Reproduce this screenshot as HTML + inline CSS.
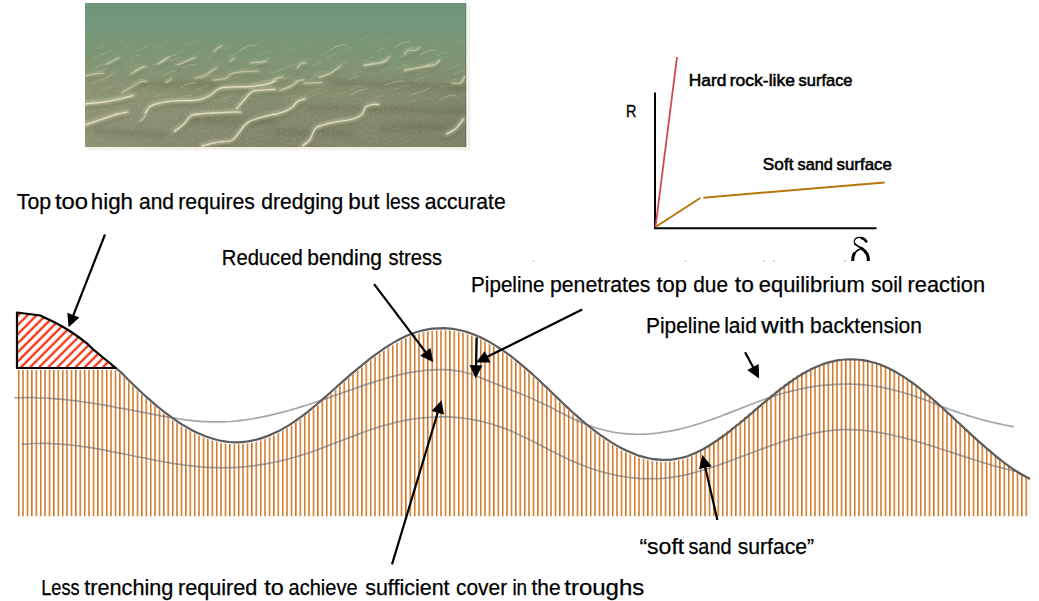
<!DOCTYPE html>
<html><head><meta charset="utf-8"><style>
html,body{margin:0;padding:0;background:#fff;}
svg{display:block;}
</style></head><body>
<svg width="1039" height="601" viewBox="0 0 1039 601">
<defs>
<pattern id="vh" x="17.9" y="0" width="4.4" height="601" patternUnits="userSpaceOnUse">
<rect x="0" y="0" width="1.5" height="601" fill="#cf721f"/>
</pattern>
<pattern id="rh" x="0" y="0" width="6.435" height="9" patternUnits="userSpaceOnUse" patternTransform="rotate(45)">
<rect x="3.2" y="0" width="2.1" height="9" fill="#fb2200"/>
</pattern>
<clipPath id="hc"><path d="M115.8,370.0 C116.8,370.9 119.8,373.2 121.8,375.1 C123.8,377.0 125.8,379.2 127.8,381.2 C129.7,383.1 131.7,385.1 133.7,387.0 C135.7,389.0 137.7,390.9 139.7,392.7 C141.7,394.6 143.7,396.5 145.7,398.3 C147.7,400.0 149.7,401.8 151.7,403.5 C153.6,405.3 155.6,406.9 157.6,408.6 C159.6,410.2 161.6,411.8 163.6,413.4 C165.6,414.9 167.6,416.4 169.6,417.9 C171.6,419.4 173.6,420.8 175.6,422.1 C177.5,423.5 179.5,424.8 181.5,426.1 C183.5,427.3 185.5,428.5 187.5,429.6 C189.5,430.8 191.5,431.9 193.5,432.9 C195.5,433.9 197.5,434.9 199.5,435.8 C201.4,436.7 203.4,437.5 205.4,438.3 C207.4,439.0 209.4,439.7 211.4,440.3 C213.4,441.0 215.4,441.5 217.4,442.0 C219.4,442.5 221.4,442.9 223.4,443.2 C225.3,443.6 227.3,443.8 229.3,444.0 C231.3,444.2 233.3,444.3 235.3,444.3 C237.3,444.3 239.3,444.2 241.3,444.1 C243.3,444.0 245.3,443.8 247.3,443.5 C249.2,443.2 251.2,442.8 253.2,442.4 C255.2,442.0 257.2,441.4 259.2,440.9 C261.2,440.3 263.2,439.6 265.2,438.9 C267.2,438.2 269.2,437.4 271.2,436.5 C273.1,435.7 275.1,434.8 277.1,433.8 C279.1,432.8 281.1,431.7 283.1,430.6 C285.1,429.5 287.1,428.3 289.1,427.1 C291.1,425.8 293.1,424.5 295.1,423.1 C297.0,421.8 299.0,420.3 301.0,418.9 C303.0,417.4 305.0,415.9 307.0,414.3 C309.0,412.7 311.0,411.1 313.0,409.5 C315.0,407.8 317.0,406.2 319.0,404.5 C320.9,402.8 322.9,401.0 324.9,399.3 C326.9,397.6 328.9,395.8 330.9,394.0 C332.9,392.3 334.9,390.5 336.9,388.7 C338.9,387.0 340.9,385.2 342.9,383.4 C344.8,381.7 346.8,379.9 348.8,378.2 C350.8,376.5 352.8,374.8 354.8,373.1 C356.8,371.4 358.8,369.7 360.8,368.1 C362.8,366.4 364.8,364.8 366.8,363.3 C368.7,361.7 370.7,360.2 372.7,358.7 C374.7,357.2 376.7,355.7 378.7,354.3 C380.7,352.9 382.7,351.5 384.7,350.2 C386.7,348.9 388.7,347.6 390.7,346.4 C392.6,345.2 394.6,344.0 396.6,342.9 C398.6,341.8 400.6,340.8 402.6,339.8 C404.6,338.8 406.6,337.9 408.6,337.1 C410.6,336.3 412.6,335.5 414.6,334.8 C416.5,334.2 418.5,333.6 420.5,333.0 C422.5,332.5 424.5,332.0 426.5,331.7 C428.5,331.3 430.5,331.0 432.5,330.7 C434.5,330.5 436.5,330.4 438.5,330.3 C440.5,330.2 442.4,330.2 444.4,330.2 C446.4,330.3 448.4,330.5 450.4,330.7 C452.4,330.9 454.4,331.2 456.4,331.5 C458.4,331.9 460.4,332.3 462.4,332.8 C464.4,333.3 466.3,333.9 468.3,334.5 C470.3,335.2 472.3,335.9 474.3,336.7 C476.3,337.4 478.3,338.3 480.3,339.2 C482.3,340.1 484.3,341.1 486.3,342.2 C488.3,343.3 490.2,344.4 492.2,345.6 C494.2,346.7 496.2,348.0 498.2,349.3 C500.2,350.6 502.2,351.9 504.2,353.3 C506.2,354.7 508.2,356.2 510.2,357.7 C512.2,359.2 514.1,360.8 516.1,362.3 C518.1,363.9 520.1,365.6 522.1,367.3 C524.1,368.9 526.1,370.6 528.1,372.4 C530.1,374.1 532.1,375.9 534.1,377.8 C536.1,379.6 538.0,381.4 540.0,383.3 C542.0,385.2 544.0,387.0 546.0,388.9 C548.0,390.8 550.0,392.8 552.0,394.7 C554.0,396.6 556.0,398.5 558.0,400.4 C560.0,402.3 561.9,404.2 563.9,406.1 C565.9,408.0 567.9,409.9 569.9,411.7 C571.9,413.6 573.9,415.4 575.9,417.2 C577.9,418.9 579.9,420.7 581.9,422.4 C583.9,424.1 585.8,425.8 587.8,427.4 C589.8,429.0 591.8,430.6 593.8,432.1 C595.8,433.7 597.8,435.1 599.8,436.6 C601.8,438.0 603.8,439.4 605.8,440.7 C607.8,442.1 609.7,443.4 611.7,444.6 C613.7,445.8 615.7,447.0 617.7,448.1 C619.7,449.2 621.7,450.3 623.7,451.2 C625.7,452.2 627.7,453.2 629.7,454.0 C631.7,454.9 633.6,455.7 635.6,456.4 C637.6,457.2 639.6,457.8 641.6,458.4 C643.6,459.0 645.6,459.5 647.6,460.0 C649.6,460.4 651.6,460.8 653.6,461.1 C655.6,461.4 657.5,461.6 659.5,461.7 C661.5,461.9 663.5,461.9 665.5,461.9 C667.5,461.9 669.5,461.8 671.5,461.6 C673.5,461.4 675.5,461.1 677.5,460.7 C679.5,460.4 681.4,459.9 683.4,459.4 C685.4,458.8 687.4,458.3 689.4,457.4 C691.4,456.6 693.4,455.3 695.4,454.1 C697.4,452.9 699.4,451.6 701.4,450.2 C703.4,448.9 705.3,447.4 707.3,445.9 C709.3,444.4 711.3,442.7 713.3,441.2 C715.3,439.7 717.3,438.4 719.3,436.9 C721.3,435.5 723.3,434.0 725.3,432.6 C727.3,431.1 729.3,429.5 731.2,428.0 C733.2,426.4 735.2,424.8 737.2,423.2 C739.2,421.6 741.2,419.9 743.2,418.3 C745.2,416.6 747.2,414.9 749.2,413.3 C751.2,411.6 753.2,409.9 755.1,408.2 C757.1,406.5 759.1,404.8 761.1,403.1 C763.1,401.4 765.1,399.8 767.1,398.1 C769.1,396.5 771.1,394.8 773.1,393.2 C775.1,391.6 777.1,390.0 779.0,388.4 C781.0,386.9 783.0,385.3 785.0,383.8 C787.0,382.3 789.0,380.9 791.0,379.5 C793.0,378.1 795.0,376.8 797.0,375.5 C799.0,374.3 801.0,373.2 802.9,372.2 C804.9,371.1 806.9,370.1 808.9,369.2 C810.9,368.2 812.9,367.4 814.9,366.6 C816.9,365.8 818.9,365.1 820.9,364.5 C822.9,363.8 824.9,363.3 826.8,362.8 C828.8,362.2 830.8,361.8 832.8,361.4 C834.8,360.9 836.8,360.5 838.8,360.2 C840.8,359.9 842.8,359.7 844.8,359.5 C846.8,359.4 848.8,359.3 850.7,359.3 C852.7,359.3 854.7,359.3 856.7,359.5 C858.7,359.6 860.7,359.8 862.7,360.1 C864.7,360.4 866.7,360.8 868.7,361.2 C870.7,361.7 872.7,362.2 874.6,362.8 C876.6,363.4 878.6,364.1 880.6,364.8 C882.6,365.6 884.6,366.4 886.6,367.3 C888.6,368.2 890.6,369.2 892.6,370.2 C894.6,371.3 896.6,372.4 898.5,373.6 C900.5,374.8 902.5,376.0 904.5,377.4 C906.5,378.7 908.5,380.0 910.5,381.5 C912.5,382.9 914.5,384.4 916.5,385.9 C918.5,387.4 920.5,389.0 922.4,390.6 C924.4,392.2 926.4,393.9 928.4,395.5 C930.4,397.2 932.4,398.9 934.4,400.7 C936.4,402.4 938.4,404.2 940.4,406.0 C942.4,407.8 944.4,409.6 946.3,411.4 C948.3,413.2 950.3,415.1 952.3,416.9 C954.3,418.8 956.3,420.6 958.3,422.5 C960.3,424.3 962.3,426.2 964.3,428.1 C966.3,429.9 968.3,431.8 970.2,433.6 C972.2,435.4 974.2,437.3 976.2,439.1 C978.2,440.9 980.2,442.7 982.2,444.4 C984.2,446.2 986.2,448.0 988.2,449.7 C990.2,451.4 992.2,453.1 994.1,454.7 C996.1,456.3 998.1,458.0 1000.1,459.5 C1002.1,461.1 1004.1,462.6 1006.1,464.1 C1008.1,465.5 1010.1,467.0 1012.1,468.3 C1014.1,469.7 1016.1,471.0 1018.0,472.2 C1020.0,473.5 1022.0,474.7 1024.0,475.8 C1026.0,476.9 1029.0,478.4 1030.0,478.9 L1030,516.5 L16.5,516.5 L16.5,370 L115.8,370 Z"/></clipPath>
<clipPath id="dc"><rect x="0" y="0" width="1039" height="261"/></clipPath>
</defs>
<rect x="466.4" y="6" width="4" height="144.3" fill="#f4f2e8"/>
<rect x="88" y="147" width="382.4" height="3.3" fill="#f4f2e8"/>

<svg x="85" y="3" width="381.4" height="144" viewBox="0 0 381.4 144">
<defs>
<linearGradient id="pg" x1="0" y1="0" x2="0" y2="1">
<stop offset="0" stop-color="#6f967c"/>
<stop offset="0.15" stop-color="#72977b"/>
<stop offset="0.28" stop-color="#7a9675"/>
<stop offset="0.42" stop-color="#809674"/>
<stop offset="0.6" stop-color="#838e6e"/>
<stop offset="0.8" stop-color="#82886c"/>
<stop offset="1" stop-color="#7f8369"/>
</linearGradient>
<linearGradient id="ph" x1="0" y1="0" x2="1" y2="0">
<stop offset="0" stop-color="#a8aa8c" stop-opacity="0.3"/>
<stop offset="0.5" stop-color="#a6a888" stop-opacity="0"/>
<stop offset="1" stop-color="#5f6a50" stop-opacity="0.22"/>
</linearGradient>
<linearGradient id="pm" x1="0" y1="0" x2="0" y2="1">
<stop offset="0" stop-color="#fff" stop-opacity="0"/>
<stop offset="0.35" stop-color="#fff" stop-opacity="0"/>
<stop offset="0.7" stop-color="#fff" stop-opacity="1"/>
</linearGradient>
<mask id="pmask"><rect width="381.4" height="144" fill="url(#pm)"/></mask>
<filter id="bl" x="-20%" y="-20%" width="140%" height="140%"><feGaussianBlur stdDeviation="0.6"/></filter>
<filter id="bl2" x="-20%" y="-50%" width="140%" height="200%"><feGaussianBlur stdDeviation="2.5"/></filter>
<filter id="bl3" x="-20%" y="-50%" width="140%" height="200%"><feGaussianBlur stdDeviation="1.5"/></filter>
<filter id="noise" x="0" y="0" width="100%" height="100%"><feTurbulence type="fractalNoise" baseFrequency="0.6 0.4" numOctaves="2" seed="3"/><feColorMatrix type="matrix" values="0 0 0 0 0.3  0 0 0 0 0.31  0 0 0 0 0.22  3.2 0 0 0 -1.5"/></filter>
<filter id="noise2" x="0" y="0" width="100%" height="100%"><feTurbulence type="fractalNoise" baseFrequency="0.6 0.4" numOctaves="2" seed="11"/><feColorMatrix type="matrix" values="0 0 0 0 0.9  0 0 0 0 0.88  0 0 0 0 0.75  3.2 0 0 0 -1.5"/></filter>
</defs>
<rect width="381.4" height="144" fill="url(#pg)"/>
<rect width="381.4" height="144" fill="url(#ph)" mask="url(#pmask)"/>
<g fill="none" stroke="#54583e" stroke-width="5" opacity="0.3" filter="url(#bl2)"><path d="M245.0,80.0 C251.7,80.1 271.8,80.2 285.0,80.5 C298.2,80.8 312.3,81.4 324.0,82.0 C335.7,82.6 345.5,83.5 355.0,84.0 C364.5,84.5 376.7,84.8 381.0,85.0"/><path d="M221.0,105.0 C226.7,105.1 242.7,105.3 255.0,105.5 C267.3,105.7 281.7,105.8 295.0,106.0 C308.3,106.2 320.7,106.7 335.0,107.0 C349.3,107.3 373.3,107.8 381.0,108.0"/><path d="M190.0,129.0 C194.2,129.1 205.8,129.3 215.0,129.5 C224.2,129.7 236.0,129.8 245.0,130.0 C254.0,130.2 265.0,130.8 269.0,131.0"/><path d="M55.0,81.0 C61.7,81.1 81.8,81.2 95.0,81.5 C108.2,81.8 127.5,82.3 134.0,82.5"/><path d="M96.0,118.0 C102.5,118.1 119.3,118.3 135.0,118.5 C150.7,118.7 180.8,118.9 190.0,119.0"/><path d="M10.0,128.0 C15.8,128.3 33.3,129.3 45.0,130.0 C56.7,130.7 74.2,131.7 80.0,132.0"/><path d="M295.0,125.0 C301.7,124.8 321.7,124.0 335.0,124.0 C348.3,124.0 368.3,124.8 375.0,125.0"/></g>
<g fill="none" stroke="#4f5538" stroke-linecap="round" filter="url(#bl3)" transform="translate(0,3.5)">
<g stroke-width="4" opacity="0.3"><path d="M0.0,121.9 C1.8,121.3 7.3,119.5 11.0,118.3 C14.7,117.1 18.3,115.8 22.0,114.6 C25.7,113.4 29.6,111.9 32.9,111.0 C36.2,110.1 40.5,109.4 42.0,109.1"/><path d="M60.4,110.0 C61.2,108.9 62.9,105.2 65.0,103.6 C67.1,102.0 69.7,101.2 73.2,100.3 C76.7,99.4 82.0,98.5 86.0,98.1 C90.0,97.6 92.3,97.8 96.9,97.6 C101.5,97.4 108.8,97.7 113.4,96.9 C118.0,96.1 121.4,94.3 124.4,92.7 C127.5,91.1 129.3,88.6 131.7,87.2 C134.1,85.8 133.5,85.0 139.0,84.4 C144.5,83.8 157.3,84.1 164.6,83.5 C171.9,82.9 178.7,81.7 182.9,80.8 C187.1,79.9 188.8,78.5 190.0,78.0"/><path d="M89.6,128.3 C91.1,127.1 96.1,123.6 98.8,121.0 C101.5,118.4 103.6,114.5 106.0,112.8 C108.4,111.1 109.7,111.5 113.4,111.0 C117.1,110.5 122.5,110.3 128.0,110.0 C133.5,109.7 141.7,109.2 146.3,109.1 C150.9,108.9 153.9,109.1 155.4,109.1"/><path d="M117.0,143.0 C119.5,142.4 126.8,140.2 131.7,139.3 C136.6,138.4 142.7,139.0 146.3,137.5 C150.0,136.0 151.5,132.6 153.6,130.2 C155.7,127.7 157.3,124.8 159.1,122.8 C160.9,120.8 161.8,119.7 164.6,118.3 C167.3,116.9 171.4,115.8 175.6,114.6 C179.8,113.4 187.6,111.6 190.0,111.0"/><path d="M151.8,105.5 C153.0,104.1 156.7,100.0 159.1,97.2 C161.5,94.5 163.7,90.7 166.4,89.0 C169.2,87.3 171.7,87.7 175.6,87.2 C179.5,86.8 187.6,86.5 190.0,86.3"/><path d="M190.0,111.5 C191.8,110.9 198.0,109.2 201.1,107.8 C204.2,106.4 206.7,104.7 208.5,103.2 C210.3,101.7 210.3,99.8 212.2,98.6 C214.0,97.4 218.4,96.3 219.6,95.8"/><path d="M217.7,142.9 C218.9,141.8 223.1,139.3 225.1,136.5 C227.1,133.7 227.8,128.6 229.7,126.3 C231.5,124.0 232.6,123.8 236.2,122.6 C239.8,121.4 245.8,120.0 251.0,118.9 C256.2,117.8 263.3,117.3 267.6,116.1 C271.9,114.9 274.7,113.5 276.9,111.5 C279.1,109.5 278.8,105.8 280.6,104.1 C282.5,102.4 285.9,101.9 288.0,101.4 C290.1,101.0 292.6,101.4 293.5,101.4"/><path d="M361.9,130.9 C363.4,130.0 368.3,127.9 371.1,125.4 C373.9,122.9 377.3,117.6 378.5,116.1"/><path d="M0.0,100.8 C3.1,100.5 12.3,99.9 18.4,99.0 C24.5,98.1 31.9,96.4 36.8,95.3 C41.7,94.2 46.0,93.0 47.8,92.5"/></g>
<g stroke-width="3" opacity="0.2"><path d="M22.0,61.0 C22.9,60.5 25.6,59.4 27.6,58.3 C29.6,57.2 32.9,55.2 34.0,54.6"/><path d="M46.0,71.1 C47.2,70.3 51.2,67.7 53.3,66.5 C55.4,65.3 57.9,64.2 58.8,63.8"/><path d="M73.5,61.0 C74.4,60.4 77.3,58.4 79.0,57.3 C80.7,56.2 82.8,55.0 83.6,54.6"/><path d="M91.9,61.9 C93.1,61.5 97.2,60.1 99.3,59.2 C101.5,58.3 103.0,57.2 104.8,56.4 C106.6,55.6 109.4,54.9 110.3,54.6"/><path d="M80.9,79.4 C81.8,78.9 85.5,77.1 86.4,76.6"/><path d="M128.7,49.0 C129.3,48.4 131.0,46.5 132.4,45.4 C133.8,44.3 136.2,43.1 137.0,42.6"/><path d="M145.2,58.2 C145.8,57.8 148.3,56.0 148.9,55.5"/><path d="M165.4,60.0 C168.2,59.7 179.2,58.5 182.0,58.2"/><path d="M0.0,73.0 C1.5,72.7 6.1,71.6 9.2,71.1 C12.3,70.6 16.9,70.3 18.4,70.2"/><path d="M191.0,75.7 C192.2,75.4 197.2,74.2 198.4,73.9"/><path d="M194.7,87.7 C196.5,87.1 202.9,85.5 205.7,84.0 C208.4,82.5 209.0,79.7 211.2,78.5 C213.3,77.3 217.4,76.9 218.6,76.6"/><path d="M235.1,73.9 C236.9,73.3 243.3,71.6 246.1,70.2 C248.9,68.8 250.2,66.7 251.7,65.6 C253.2,64.5 254.7,64.1 255.3,63.8"/><path d="M279.2,61.9 C281.6,61.6 290.2,61.0 293.9,60.1 C297.6,59.2 299.4,57.5 301.3,56.4 C303.2,55.3 304.4,54.2 305.0,53.7"/><path d="M319.7,66.5 C322.1,66.2 330.4,65.5 334.4,64.7 C338.4,63.9 340.9,62.5 343.6,61.9 C346.4,61.3 349.1,61.8 350.9,61.0 C352.7,60.2 354.0,57.9 354.6,57.3"/><path d="M319.7,50.9 C320.3,50.3 321.6,47.8 323.4,47.2 C325.2,46.6 328.9,47.7 330.7,47.2 C332.5,46.8 333.8,45.0 334.4,44.5"/><path d="M367.5,80.3 C369.0,80.2 374.6,80.6 376.7,79.4 C378.8,78.2 379.7,74.1 380.3,73.0"/><path d="M55.1,118.3 C56.0,117.4 59.8,113.6 60.7,112.7"/><path d="M218.6,80.3 C221.7,80.2 233.9,79.6 237.0,79.4"/><path d="M36.6,89.9 C38.4,88.8 44.4,85.3 47.5,83.5 C50.6,81.7 52.5,79.9 54.9,79.0 C57.4,78.1 61.0,78.2 62.2,78.0"/><path d="M109.7,75.3 C111.5,74.8 117.9,73.7 120.7,72.5 C123.4,71.3 124.4,69.2 126.2,68.0 C128.0,66.8 130.8,65.7 131.7,65.2"/><path d="M128.0,77.1 C130.1,76.8 137.8,76.4 140.8,75.3 C143.9,74.2 143.9,71.8 146.3,70.7 C148.7,69.6 150.8,69.4 155.4,68.9 C160.0,68.5 170.6,68.2 173.7,68.0"/><path d="M197.4,86.6 C199.2,85.8 205.7,83.5 208.5,82.0 C211.3,80.5 213.1,78.1 214.0,77.3"/><path d="M234.4,74.6 C236.2,73.8 242.3,71.5 245.4,69.9 C248.5,68.4 251.6,66.1 252.8,65.3"/><path d="M212.2,65.3 C212.8,64.5 214.4,61.6 215.9,60.7 C217.4,59.8 220.5,59.9 221.4,59.8"/><path d="M278.7,62.5 C281.8,62.0 293.2,60.7 297.2,59.8 C301.2,58.9 301.8,57.5 302.7,57.0"/><path d="M319.4,68.1 C321.8,67.5 329.2,65.3 334.1,64.4 C339.0,63.5 345.5,63.6 348.9,62.5 C352.3,61.4 353.6,58.7 354.5,57.9"/><path d="M374.8,81.0 C375.6,79.8 378.6,74.8 379.4,73.6"/><path d="M188.0,77.3 C188.9,76.8 192.8,75.0 193.7,74.6"/></g>
</g>
<g fill="none" stroke="#ece4c0" stroke-linecap="round" filter="url(#bl3)">
<g stroke-width="5" opacity="0.4"><path d="M0.0,121.9 C1.8,121.3 7.3,119.5 11.0,118.3 C14.7,117.1 18.3,115.8 22.0,114.6 C25.7,113.4 29.6,111.9 32.9,111.0 C36.2,110.1 40.5,109.4 42.0,109.1"/><path d="M60.4,110.0 C61.2,108.9 62.9,105.2 65.0,103.6 C67.1,102.0 69.7,101.2 73.2,100.3 C76.7,99.4 82.0,98.5 86.0,98.1 C90.0,97.6 92.3,97.8 96.9,97.6 C101.5,97.4 108.8,97.7 113.4,96.9 C118.0,96.1 121.4,94.3 124.4,92.7 C127.5,91.1 129.3,88.6 131.7,87.2 C134.1,85.8 133.5,85.0 139.0,84.4 C144.5,83.8 157.3,84.1 164.6,83.5 C171.9,82.9 178.7,81.7 182.9,80.8 C187.1,79.9 188.8,78.5 190.0,78.0"/><path d="M89.6,128.3 C91.1,127.1 96.1,123.6 98.8,121.0 C101.5,118.4 103.6,114.5 106.0,112.8 C108.4,111.1 109.7,111.5 113.4,111.0 C117.1,110.5 122.5,110.3 128.0,110.0 C133.5,109.7 141.7,109.2 146.3,109.1 C150.9,108.9 153.9,109.1 155.4,109.1"/><path d="M117.0,143.0 C119.5,142.4 126.8,140.2 131.7,139.3 C136.6,138.4 142.7,139.0 146.3,137.5 C150.0,136.0 151.5,132.6 153.6,130.2 C155.7,127.7 157.3,124.8 159.1,122.8 C160.9,120.8 161.8,119.7 164.6,118.3 C167.3,116.9 171.4,115.8 175.6,114.6 C179.8,113.4 187.6,111.6 190.0,111.0"/><path d="M151.8,105.5 C153.0,104.1 156.7,100.0 159.1,97.2 C161.5,94.5 163.7,90.7 166.4,89.0 C169.2,87.3 171.7,87.7 175.6,87.2 C179.5,86.8 187.6,86.5 190.0,86.3"/><path d="M190.0,111.5 C191.8,110.9 198.0,109.2 201.1,107.8 C204.2,106.4 206.7,104.7 208.5,103.2 C210.3,101.7 210.3,99.8 212.2,98.6 C214.0,97.4 218.4,96.3 219.6,95.8"/><path d="M217.7,142.9 C218.9,141.8 223.1,139.3 225.1,136.5 C227.1,133.7 227.8,128.6 229.7,126.3 C231.5,124.0 232.6,123.8 236.2,122.6 C239.8,121.4 245.8,120.0 251.0,118.9 C256.2,117.8 263.3,117.3 267.6,116.1 C271.9,114.9 274.7,113.5 276.9,111.5 C279.1,109.5 278.8,105.8 280.6,104.1 C282.5,102.4 285.9,101.9 288.0,101.4 C290.1,101.0 292.6,101.4 293.5,101.4"/><path d="M361.9,130.9 C363.4,130.0 368.3,127.9 371.1,125.4 C373.9,122.9 377.3,117.6 378.5,116.1"/><path d="M0.0,100.8 C3.1,100.5 12.3,99.9 18.4,99.0 C24.5,98.1 31.9,96.4 36.8,95.3 C41.7,94.2 46.0,93.0 47.8,92.5"/></g>
<g stroke-width="3.5" opacity="0.25"><path d="M22.0,61.0 C22.9,60.5 25.6,59.4 27.6,58.3 C29.6,57.2 32.9,55.2 34.0,54.6"/><path d="M46.0,71.1 C47.2,70.3 51.2,67.7 53.3,66.5 C55.4,65.3 57.9,64.2 58.8,63.8"/><path d="M73.5,61.0 C74.4,60.4 77.3,58.4 79.0,57.3 C80.7,56.2 82.8,55.0 83.6,54.6"/><path d="M91.9,61.9 C93.1,61.5 97.2,60.1 99.3,59.2 C101.5,58.3 103.0,57.2 104.8,56.4 C106.6,55.6 109.4,54.9 110.3,54.6"/><path d="M80.9,79.4 C81.8,78.9 85.5,77.1 86.4,76.6"/><path d="M128.7,49.0 C129.3,48.4 131.0,46.5 132.4,45.4 C133.8,44.3 136.2,43.1 137.0,42.6"/><path d="M145.2,58.2 C145.8,57.8 148.3,56.0 148.9,55.5"/><path d="M165.4,60.0 C168.2,59.7 179.2,58.5 182.0,58.2"/><path d="M0.0,73.0 C1.5,72.7 6.1,71.6 9.2,71.1 C12.3,70.6 16.9,70.3 18.4,70.2"/><path d="M191.0,75.7 C192.2,75.4 197.2,74.2 198.4,73.9"/><path d="M194.7,87.7 C196.5,87.1 202.9,85.5 205.7,84.0 C208.4,82.5 209.0,79.7 211.2,78.5 C213.3,77.3 217.4,76.9 218.6,76.6"/><path d="M235.1,73.9 C236.9,73.3 243.3,71.6 246.1,70.2 C248.9,68.8 250.2,66.7 251.7,65.6 C253.2,64.5 254.7,64.1 255.3,63.8"/><path d="M279.2,61.9 C281.6,61.6 290.2,61.0 293.9,60.1 C297.6,59.2 299.4,57.5 301.3,56.4 C303.2,55.3 304.4,54.2 305.0,53.7"/><path d="M319.7,66.5 C322.1,66.2 330.4,65.5 334.4,64.7 C338.4,63.9 340.9,62.5 343.6,61.9 C346.4,61.3 349.1,61.8 350.9,61.0 C352.7,60.2 354.0,57.9 354.6,57.3"/><path d="M319.7,50.9 C320.3,50.3 321.6,47.8 323.4,47.2 C325.2,46.6 328.9,47.7 330.7,47.2 C332.5,46.8 333.8,45.0 334.4,44.5"/><path d="M367.5,80.3 C369.0,80.2 374.6,80.6 376.7,79.4 C378.8,78.2 379.7,74.1 380.3,73.0"/><path d="M55.1,118.3 C56.0,117.4 59.8,113.6 60.7,112.7"/><path d="M218.6,80.3 C221.7,80.2 233.9,79.6 237.0,79.4"/><path d="M36.6,89.9 C38.4,88.8 44.4,85.3 47.5,83.5 C50.6,81.7 52.5,79.9 54.9,79.0 C57.4,78.1 61.0,78.2 62.2,78.0"/><path d="M109.7,75.3 C111.5,74.8 117.9,73.7 120.7,72.5 C123.4,71.3 124.4,69.2 126.2,68.0 C128.0,66.8 130.8,65.7 131.7,65.2"/><path d="M128.0,77.1 C130.1,76.8 137.8,76.4 140.8,75.3 C143.9,74.2 143.9,71.8 146.3,70.7 C148.7,69.6 150.8,69.4 155.4,68.9 C160.0,68.5 170.6,68.2 173.7,68.0"/><path d="M197.4,86.6 C199.2,85.8 205.7,83.5 208.5,82.0 C211.3,80.5 213.1,78.1 214.0,77.3"/><path d="M234.4,74.6 C236.2,73.8 242.3,71.5 245.4,69.9 C248.5,68.4 251.6,66.1 252.8,65.3"/><path d="M212.2,65.3 C212.8,64.5 214.4,61.6 215.9,60.7 C217.4,59.8 220.5,59.9 221.4,59.8"/><path d="M278.7,62.5 C281.8,62.0 293.2,60.7 297.2,59.8 C301.2,58.9 301.8,57.5 302.7,57.0"/><path d="M319.4,68.1 C321.8,67.5 329.2,65.3 334.1,64.4 C339.0,63.5 345.5,63.6 348.9,62.5 C352.3,61.4 353.6,58.7 354.5,57.9"/><path d="M374.8,81.0 C375.6,79.8 378.6,74.8 379.4,73.6"/><path d="M188.0,77.3 C188.9,76.8 192.8,75.0 193.7,74.6"/></g>
</g>
<g fill="none" stroke="#fbf5da" stroke-linecap="round" filter="url(#bl)">
<g stroke-width="1.3" opacity="0.75"><path d="M0.0,121.9 C1.8,121.3 7.3,119.5 11.0,118.3 C14.7,117.1 18.3,115.8 22.0,114.6 C25.7,113.4 29.6,111.9 32.9,111.0 C36.2,110.1 40.5,109.4 42.0,109.1"/><path d="M60.4,110.0 C61.2,108.9 62.9,105.2 65.0,103.6 C67.1,102.0 69.7,101.2 73.2,100.3 C76.7,99.4 82.0,98.5 86.0,98.1 C90.0,97.6 92.3,97.8 96.9,97.6 C101.5,97.4 108.8,97.7 113.4,96.9 C118.0,96.1 121.4,94.3 124.4,92.7 C127.5,91.1 129.3,88.6 131.7,87.2 C134.1,85.8 133.5,85.0 139.0,84.4 C144.5,83.8 157.3,84.1 164.6,83.5 C171.9,82.9 178.7,81.7 182.9,80.8 C187.1,79.9 188.8,78.5 190.0,78.0"/><path d="M89.6,128.3 C91.1,127.1 96.1,123.6 98.8,121.0 C101.5,118.4 103.6,114.5 106.0,112.8 C108.4,111.1 109.7,111.5 113.4,111.0 C117.1,110.5 122.5,110.3 128.0,110.0 C133.5,109.7 141.7,109.2 146.3,109.1 C150.9,108.9 153.9,109.1 155.4,109.1"/><path d="M117.0,143.0 C119.5,142.4 126.8,140.2 131.7,139.3 C136.6,138.4 142.7,139.0 146.3,137.5 C150.0,136.0 151.5,132.6 153.6,130.2 C155.7,127.7 157.3,124.8 159.1,122.8 C160.9,120.8 161.8,119.7 164.6,118.3 C167.3,116.9 171.4,115.8 175.6,114.6 C179.8,113.4 187.6,111.6 190.0,111.0"/><path d="M151.8,105.5 C153.0,104.1 156.7,100.0 159.1,97.2 C161.5,94.5 163.7,90.7 166.4,89.0 C169.2,87.3 171.7,87.7 175.6,87.2 C179.5,86.8 187.6,86.5 190.0,86.3"/><path d="M190.0,111.5 C191.8,110.9 198.0,109.2 201.1,107.8 C204.2,106.4 206.7,104.7 208.5,103.2 C210.3,101.7 210.3,99.8 212.2,98.6 C214.0,97.4 218.4,96.3 219.6,95.8"/><path d="M217.7,142.9 C218.9,141.8 223.1,139.3 225.1,136.5 C227.1,133.7 227.8,128.6 229.7,126.3 C231.5,124.0 232.6,123.8 236.2,122.6 C239.8,121.4 245.8,120.0 251.0,118.9 C256.2,117.8 263.3,117.3 267.6,116.1 C271.9,114.9 274.7,113.5 276.9,111.5 C279.1,109.5 278.8,105.8 280.6,104.1 C282.5,102.4 285.9,101.9 288.0,101.4 C290.1,101.0 292.6,101.4 293.5,101.4"/><path d="M361.9,130.9 C363.4,130.0 368.3,127.9 371.1,125.4 C373.9,122.9 377.3,117.6 378.5,116.1"/><path d="M0.0,100.8 C3.1,100.5 12.3,99.9 18.4,99.0 C24.5,98.1 31.9,96.4 36.8,95.3 C41.7,94.2 46.0,93.0 47.8,92.5"/></g>
<g stroke-width="1.1" opacity="0.45"><path d="M22.0,61.0 C22.9,60.5 25.6,59.4 27.6,58.3 C29.6,57.2 32.9,55.2 34.0,54.6"/><path d="M46.0,71.1 C47.2,70.3 51.2,67.7 53.3,66.5 C55.4,65.3 57.9,64.2 58.8,63.8"/><path d="M73.5,61.0 C74.4,60.4 77.3,58.4 79.0,57.3 C80.7,56.2 82.8,55.0 83.6,54.6"/><path d="M91.9,61.9 C93.1,61.5 97.2,60.1 99.3,59.2 C101.5,58.3 103.0,57.2 104.8,56.4 C106.6,55.6 109.4,54.9 110.3,54.6"/><path d="M80.9,79.4 C81.8,78.9 85.5,77.1 86.4,76.6"/><path d="M128.7,49.0 C129.3,48.4 131.0,46.5 132.4,45.4 C133.8,44.3 136.2,43.1 137.0,42.6"/><path d="M145.2,58.2 C145.8,57.8 148.3,56.0 148.9,55.5"/><path d="M165.4,60.0 C168.2,59.7 179.2,58.5 182.0,58.2"/><path d="M0.0,73.0 C1.5,72.7 6.1,71.6 9.2,71.1 C12.3,70.6 16.9,70.3 18.4,70.2"/><path d="M191.0,75.7 C192.2,75.4 197.2,74.2 198.4,73.9"/><path d="M194.7,87.7 C196.5,87.1 202.9,85.5 205.7,84.0 C208.4,82.5 209.0,79.7 211.2,78.5 C213.3,77.3 217.4,76.9 218.6,76.6"/><path d="M235.1,73.9 C236.9,73.3 243.3,71.6 246.1,70.2 C248.9,68.8 250.2,66.7 251.7,65.6 C253.2,64.5 254.7,64.1 255.3,63.8"/><path d="M279.2,61.9 C281.6,61.6 290.2,61.0 293.9,60.1 C297.6,59.2 299.4,57.5 301.3,56.4 C303.2,55.3 304.4,54.2 305.0,53.7"/><path d="M319.7,66.5 C322.1,66.2 330.4,65.5 334.4,64.7 C338.4,63.9 340.9,62.5 343.6,61.9 C346.4,61.3 349.1,61.8 350.9,61.0 C352.7,60.2 354.0,57.9 354.6,57.3"/><path d="M319.7,50.9 C320.3,50.3 321.6,47.8 323.4,47.2 C325.2,46.6 328.9,47.7 330.7,47.2 C332.5,46.8 333.8,45.0 334.4,44.5"/><path d="M367.5,80.3 C369.0,80.2 374.6,80.6 376.7,79.4 C378.8,78.2 379.7,74.1 380.3,73.0"/><path d="M55.1,118.3 C56.0,117.4 59.8,113.6 60.7,112.7"/><path d="M218.6,80.3 C221.7,80.2 233.9,79.6 237.0,79.4"/><path d="M36.6,89.9 C38.4,88.8 44.4,85.3 47.5,83.5 C50.6,81.7 52.5,79.9 54.9,79.0 C57.4,78.1 61.0,78.2 62.2,78.0"/><path d="M109.7,75.3 C111.5,74.8 117.9,73.7 120.7,72.5 C123.4,71.3 124.4,69.2 126.2,68.0 C128.0,66.8 130.8,65.7 131.7,65.2"/><path d="M128.0,77.1 C130.1,76.8 137.8,76.4 140.8,75.3 C143.9,74.2 143.9,71.8 146.3,70.7 C148.7,69.6 150.8,69.4 155.4,68.9 C160.0,68.5 170.6,68.2 173.7,68.0"/><path d="M197.4,86.6 C199.2,85.8 205.7,83.5 208.5,82.0 C211.3,80.5 213.1,78.1 214.0,77.3"/><path d="M234.4,74.6 C236.2,73.8 242.3,71.5 245.4,69.9 C248.5,68.4 251.6,66.1 252.8,65.3"/><path d="M212.2,65.3 C212.8,64.5 214.4,61.6 215.9,60.7 C217.4,59.8 220.5,59.9 221.4,59.8"/><path d="M278.7,62.5 C281.8,62.0 293.2,60.7 297.2,59.8 C301.2,58.9 301.8,57.5 302.7,57.0"/><path d="M319.4,68.1 C321.8,67.5 329.2,65.3 334.1,64.4 C339.0,63.5 345.5,63.6 348.9,62.5 C352.3,61.4 353.6,58.7 354.5,57.9"/><path d="M374.8,81.0 C375.6,79.8 378.6,74.8 379.4,73.6"/><path d="M188.0,77.3 C188.9,76.8 192.8,75.0 193.7,74.6"/></g>
<g stroke-width="1" opacity="0.3"><path d="M49.4,68.0 C50.3,67.4 52.8,65.1 54.9,64.3 C57.0,63.5 61.0,63.6 62.2,63.4"/><path d="M15.0,77.0 C16.3,76.5 20.5,75.3 23.0,74.0 C25.5,72.7 28.8,69.8 30.0,69.0"/><path d="M75.0,59.0 C76.3,58.2 80.3,55.2 83.0,54.0 C85.7,52.8 89.7,52.3 91.0,52.0"/><path d="M155.0,47.0 C156.3,46.3 160.3,43.8 163.0,43.0 C165.7,42.2 169.7,42.2 171.0,42.0"/><path d="M245.0,47.0 C246.3,46.3 250.3,43.8 253.0,43.0 C255.7,42.2 259.7,42.2 261.0,42.0"/><path d="M310.0,44.0 C311.2,43.3 314.5,40.8 317.0,40.0 C319.5,39.2 323.7,39.2 325.0,39.0"/><path d="M335.0,52.0 C336.3,51.3 340.3,48.8 343.0,48.0 C345.7,47.2 349.7,47.2 351.0,47.0"/><path d="M95.0,85.0 C96.3,84.3 100.3,81.8 103.0,81.0 C105.7,80.2 109.7,80.2 111.0,80.0"/><path d="M265.0,92.0 C266.3,91.3 270.3,89.0 273.0,88.0 C275.7,87.0 279.7,86.3 281.0,86.0"/><path d="M300.0,82.0 C301.7,81.5 306.7,79.7 310.0,79.0 C313.3,78.3 318.3,78.2 320.0,78.0"/><path d="M325.0,92.0 C326.7,91.5 331.7,90.2 335.0,89.0 C338.3,87.8 343.3,85.7 345.0,85.0"/><path d="M355.0,97.0 C356.3,96.3 360.3,93.8 363.0,93.0 C365.7,92.2 369.7,92.2 371.0,92.0"/></g>
<g stroke-width="1"><path d="M7.9,36.5 C8.3,36.3 9.8,35.9 10.5,35.5 C11.2,35.0 11.2,34.1 12.1,33.7 C12.9,33.2 14.9,33.0 15.5,32.9" opacity="0.06"/><path d="M37.1,37.5 C37.4,37.4 38.5,37.0 38.9,36.5 C39.4,36.1 39.4,35.2 40.0,34.7 C40.5,34.3 41.9,34.1 42.3,33.9" opacity="0.09"/><path d="M55.0,37.9 C55.3,37.7 56.3,37.3 56.8,36.9 C57.2,36.4 57.2,35.5 57.8,35.1 C58.4,34.6 59.8,34.4 60.1,34.3" opacity="0.07"/><path d="M79.8,39.8 C80.1,39.7 81.2,39.3 81.7,38.8 C82.2,38.4 82.2,37.5 82.8,37.0 C83.4,36.6 84.8,36.4 85.2,36.2" opacity="0.07"/><path d="M108.5,40.4 C108.9,40.3 110.4,39.9 111.1,39.4 C111.7,39.0 111.7,38.1 112.5,37.6 C113.3,37.2 115.3,37.0 115.8,36.8" opacity="0.08"/><path d="M145.4,35.9 C145.9,35.8 147.6,35.4 148.4,34.9 C149.2,34.5 149.2,33.6 150.1,33.1 C151.0,32.7 153.3,32.5 153.9,32.3" opacity="0.08"/><path d="M168.5,36.3 C168.9,36.1 170.1,35.8 170.7,35.3 C171.2,34.8 171.2,33.9 171.9,33.5 C172.6,33.1 174.2,32.8 174.7,32.7" opacity="0.11"/><path d="M190.0,38.6 C190.4,38.4 191.9,38.1 192.6,37.6 C193.3,37.1 193.3,36.2 194.1,35.8 C194.9,35.4 197.0,35.1 197.5,35.0" opacity="0.08"/><path d="M219.4,36.0 C219.7,35.8 220.7,35.5 221.2,35.0 C221.7,34.5 221.7,33.6 222.2,33.2 C222.8,32.8 224.2,32.5 224.5,32.4" opacity="0.07"/><path d="M248.8,37.8 C249.2,37.7 250.4,37.3 251.0,36.8 C251.5,36.4 251.5,35.5 252.2,35.0 C252.9,34.6 254.5,34.4 255.0,34.2" opacity="0.10"/><path d="M275.2,37.2 C275.6,37.0 277.3,36.7 278.1,36.2 C278.8,35.7 278.8,34.8 279.7,34.4 C280.6,34.0 282.8,33.7 283.4,33.6" opacity="0.10"/><path d="M299.8,38.6 C300.2,38.4 301.6,38.0 302.3,37.6 C302.9,37.1 302.9,36.2 303.7,35.8 C304.5,35.3 306.4,35.1 306.9,35.0" opacity="0.11"/><path d="M332.0,37.1 C332.6,37.0 334.4,36.6 335.2,36.1 C336.0,35.7 336.0,34.8 337.0,34.3 C338.0,33.9 340.4,33.7 341.1,33.5" opacity="0.07"/><path d="M360.6,39.5 C360.9,39.3 362.0,39.0 362.5,38.5 C363.0,38.0 363.0,37.1 363.6,36.7 C364.2,36.3 365.7,36.0 366.1,35.9" opacity="0.09"/><path d="M13.0,45.5 C13.5,45.4 15.2,45.0 15.9,44.5 C16.7,44.1 16.7,43.2 17.6,42.7 C18.5,42.3 20.7,42.1 21.4,41.9" opacity="0.15"/><path d="M39.0,45.2 C39.5,45.0 41.2,44.6 42.0,44.2 C42.8,43.7 42.8,42.8 43.7,42.4 C44.6,41.9 46.8,41.7 47.5,41.6" opacity="0.12"/><path d="M67.7,45.9 C68.3,45.7 70.3,45.4 71.2,44.9 C72.2,44.4 72.2,43.5 73.3,43.1 C74.4,42.7 77.1,42.4 77.8,42.3" opacity="0.11"/><path d="M101.8,42.0 C102.3,41.8 104.1,41.5 104.9,41.0 C105.7,40.5 105.7,39.6 106.7,39.2 C107.7,38.8 110.1,38.5 110.7,38.4" opacity="0.13"/><path d="M140.6,45.8 C141.0,45.6 142.4,45.3 143.1,44.8 C143.7,44.3 143.7,43.4 144.4,43.0 C145.2,42.6 147.1,42.3 147.6,42.2" opacity="0.11"/><path d="M171.6,41.8 C172.1,41.6 173.6,41.3 174.4,40.8 C175.1,40.3 175.1,39.4 175.9,39.0 C176.8,38.6 178.8,38.3 179.4,38.2" opacity="0.09"/><path d="M193.5,42.0 C194.1,41.8 195.9,41.5 196.8,41.0 C197.6,40.5 197.6,39.6 198.7,39.2 C199.7,38.8 202.1,38.5 202.8,38.4" opacity="0.09"/><path d="M219.3,43.7 C219.9,43.5 221.8,43.1 222.7,42.7 C223.6,42.2 223.6,41.3 224.7,40.9 C225.7,40.4 228.3,40.2 229.1,40.1" opacity="0.08"/><path d="M249.2,44.4 C249.7,44.3 251.7,43.9 252.6,43.4 C253.5,43.0 253.5,42.1 254.6,41.6 C255.6,41.2 258.3,41.0 259.0,40.8" opacity="0.14"/><path d="M286.5,43.1 C287.0,42.9 288.5,42.6 289.2,42.1 C289.9,41.6 289.9,40.7 290.7,40.3 C291.5,39.9 293.6,39.6 294.1,39.5" opacity="0.11"/><path d="M322.1,46.5 C322.4,46.3 323.7,46.0 324.3,45.5 C324.9,45.0 324.9,44.1 325.5,43.7 C326.2,43.3 327.9,43.0 328.4,42.9" opacity="0.09"/><path d="M344.6,42.9 C345.0,42.7 346.6,42.3 347.3,41.9 C348.1,41.4 348.1,40.5 348.9,40.1 C349.8,39.6 351.9,39.4 352.5,39.3" opacity="0.12"/><path d="M369.2,41.7 C369.7,41.6 371.2,41.2 371.9,40.7 C372.6,40.3 372.6,39.4 373.4,38.9 C374.2,38.5 376.3,38.3 376.8,38.1" opacity="0.11"/><path d="M17.3,51.2 C17.8,51.0 19.6,50.6 20.5,50.2 C21.3,49.7 21.3,48.8 22.3,48.4 C23.3,47.9 25.7,47.7 26.4,47.6" opacity="0.16"/><path d="M50.6,48.0 C51.2,47.8 53.4,47.4 54.5,47.0 C55.5,46.5 55.5,45.6 56.7,45.2 C57.9,44.7 60.9,44.5 61.7,44.4" opacity="0.17"/><path d="M89.5,51.7 C89.9,51.5 91.6,51.2 92.4,50.7 C93.2,50.2 93.2,49.3 94.1,48.9 C95.0,48.5 97.2,48.2 97.9,48.1" opacity="0.13"/><path d="M111.7,50.9 C112.1,50.7 113.4,50.3 114.1,49.9 C114.7,49.4 114.7,48.5 115.4,48.1 C116.1,47.6 117.9,47.4 118.4,47.3" opacity="0.10"/><path d="M134.1,48.5 C134.6,48.3 136.2,48.0 137.0,47.5 C137.7,47.0 137.7,46.1 138.6,45.7 C139.5,45.3 141.7,45.0 142.3,44.9" opacity="0.10"/><path d="M154.3,48.5 C154.7,48.3 156.0,47.9 156.7,47.5 C157.3,47.0 157.3,46.1 158.0,45.7 C158.8,45.2 160.6,45.0 161.1,44.9" opacity="0.13"/><path d="M173.6,52.1 C174.1,51.9 176.1,51.5 176.9,51.1 C177.8,50.6 177.8,49.7 178.9,49.3 C179.9,48.8 182.5,48.6 183.2,48.5" opacity="0.11"/><path d="M199.7,49.4 C200.2,49.3 201.9,48.9 202.6,48.4 C203.4,48.0 203.4,47.1 204.3,46.6 C205.2,46.2 207.4,46.0 208.0,45.8" opacity="0.11"/><path d="M235.3,52.7 C235.8,52.5 237.6,52.1 238.4,51.7 C239.2,51.2 239.2,50.3 240.1,49.9 C241.1,49.4 243.4,49.2 244.1,49.1" opacity="0.14"/><path d="M257.6,48.2 C258.1,48.0 259.7,47.7 260.5,47.2 C261.2,46.7 261.2,45.8 262.1,45.4 C263.0,45.0 265.2,44.7 265.8,44.6" opacity="0.12"/><path d="M292.7,48.5 C293.1,48.3 294.4,48.0 295.0,47.5 C295.5,47.0 295.5,46.1 296.2,45.7 C296.9,45.3 298.7,45.0 299.1,44.9" opacity="0.19"/><path d="M320.6,48.4 C321.2,48.3 323.0,47.9 323.9,47.4 C324.7,47.0 324.7,46.1 325.7,45.6 C326.7,45.2 329.2,45.0 329.9,44.8" opacity="0.10"/><path d="M351.4,52.6 C352.0,52.4 354.2,52.1 355.2,51.6 C356.2,51.1 356.2,50.2 357.4,49.8 C358.6,49.4 361.5,49.1 362.3,49.0" opacity="0.16"/><path d="M8.5,54.5 C9.2,54.4 11.5,54.0 12.6,53.5 C13.6,53.1 13.6,52.2 14.9,51.7 C16.2,51.3 19.3,51.1 20.1,50.9" opacity="0.17"/><path d="M46.2,55.3 C46.6,55.2 48.3,54.8 49.1,54.3 C49.8,53.9 49.8,53.0 50.7,52.5 C51.6,52.1 53.9,51.9 54.5,51.7" opacity="0.20"/><path d="M84.2,58.0 C84.9,57.8 87.3,57.4 88.4,57.0 C89.4,56.5 89.4,55.6 90.7,55.2 C92.0,54.7 95.2,54.5 96.1,54.4" opacity="0.20"/><path d="M121.4,54.8 C122.0,54.7 124.0,54.3 124.9,53.8 C125.8,53.4 125.8,52.5 126.9,52.0 C128.0,51.6 130.7,51.4 131.5,51.2" opacity="0.15"/><path d="M144.0,53.8 C144.5,53.7 146.2,53.3 147.0,52.8 C147.8,52.4 147.8,51.5 148.8,51.0 C149.7,50.6 152.0,50.4 152.7,50.2" opacity="0.14"/><path d="M177.1,58.5 C177.7,58.3 179.6,57.9 180.5,57.5 C181.4,57.0 181.4,56.1 182.5,55.7 C183.5,55.2 186.1,55.0 186.8,54.9" opacity="0.21"/><path d="M216.6,58.5 C217.1,58.3 219.0,57.9 219.8,57.5 C220.7,57.0 220.7,56.1 221.7,55.7 C222.7,55.2 225.1,55.0 225.8,54.9" opacity="0.13"/><path d="M241.9,54.7 C242.4,54.5 244.0,54.2 244.8,53.7 C245.5,53.2 245.5,52.3 246.4,51.9 C247.3,51.5 249.5,51.2 250.1,51.1" opacity="0.18"/><path d="M278.3,57.9 C278.9,57.7 280.9,57.4 281.8,56.9 C282.7,56.4 282.7,55.5 283.7,55.1 C284.8,54.7 287.5,54.4 288.2,54.3" opacity="0.18"/><path d="M314.6,54.1 C315.2,54.0 317.4,53.6 318.4,53.1 C319.4,52.7 319.4,51.8 320.6,51.3 C321.8,50.9 324.7,50.7 325.6,50.5" opacity="0.21"/><path d="M351.6,57.5 C352.2,57.3 354.2,56.9 355.1,56.5 C356.0,56.0 356.0,55.1 357.1,54.7 C358.1,54.2 360.8,54.0 361.5,53.9" opacity="0.13"/><path d="M8.0,64.7 C8.8,64.5 11.6,64.2 12.9,63.7 C14.2,63.2 14.2,62.3 15.7,61.9 C17.3,61.5 21.0,61.2 22.1,61.1" opacity="0.17"/><path d="M41.3,65.4 C42.1,65.3 44.6,64.9 45.7,64.4 C46.8,64.0 46.8,63.1 48.2,62.6 C49.5,62.2 52.9,62.0 53.8,61.8" opacity="0.14"/><path d="M68.1,61.5 C68.9,61.3 71.6,60.9 72.9,60.5 C74.1,60.0 74.1,59.1 75.6,58.7 C77.1,58.2 80.7,58.0 81.8,57.9" opacity="0.22"/><path d="M96.4,64.8 C97.2,64.7 100.1,64.3 101.4,63.8 C102.7,63.4 102.7,62.5 104.2,62.0 C105.7,61.6 109.5,61.4 110.6,61.2" opacity="0.20"/><path d="M128.9,63.4 C129.4,63.3 131.1,62.9 131.9,62.4 C132.7,62.0 132.7,61.1 133.6,60.6 C134.5,60.2 136.8,60.0 137.4,59.8" opacity="0.12"/><path d="M166.9,63.9 C167.6,63.8 169.8,63.4 170.8,62.9 C171.9,62.5 171.9,61.6 173.1,61.1 C174.3,60.7 177.3,60.5 178.1,60.3" opacity="0.23"/><path d="M197.9,65.1 C198.7,64.9 201.3,64.5 202.5,64.1 C203.7,63.6 203.7,62.7 205.1,62.3 C206.6,61.8 210.1,61.6 211.1,61.5" opacity="0.15"/><path d="M227.6,62.2 C228.1,62.0 230.0,61.6 230.8,61.2 C231.7,60.7 231.7,59.8 232.7,59.4 C233.7,58.9 236.2,58.7 236.9,58.6" opacity="0.19"/><path d="M253.5,62.8 C254.0,62.6 255.8,62.3 256.5,61.8 C257.3,61.3 257.3,60.4 258.3,60.0 C259.2,59.6 261.5,59.3 262.1,59.2" opacity="0.23"/><path d="M280.5,63.0 C281.1,62.8 283.5,62.5 284.5,62.0 C285.6,61.5 285.6,60.6 286.8,60.2 C288.1,59.8 291.2,59.5 292.0,59.4" opacity="0.23"/><path d="M311.6,65.3 C312.2,65.1 314.4,64.8 315.5,64.3 C316.5,63.8 316.5,62.9 317.7,62.5 C318.8,62.1 321.8,61.8 322.6,61.7" opacity="0.18"/><path d="M344.0,60.8 C344.7,60.6 346.8,60.3 347.7,59.8 C348.7,59.3 348.7,58.4 349.9,58.0 C351.0,57.6 353.8,57.3 354.6,57.2" opacity="0.14"/><path d="M366.7,64.7 C367.2,64.5 369.0,64.2 369.8,63.7 C370.6,63.2 370.6,62.3 371.6,61.9 C372.5,61.5 374.9,61.2 375.5,61.1" opacity="0.18"/><path d="M11.3,69.3 C12.1,69.2 14.5,68.8 15.6,68.3 C16.7,67.9 16.7,67.0 18.0,66.5 C19.3,66.1 22.6,65.9 23.5,65.7" opacity="0.19"/><path d="M49.6,68.2 C50.3,68.1 52.8,67.7 53.9,67.2 C55.1,66.8 55.1,65.9 56.4,65.4 C57.8,65.0 61.1,64.8 62.0,64.6" opacity="0.15"/><path d="M79.0,71.6 C79.7,71.4 82.1,71.0 83.2,70.6 C84.3,70.1 84.3,69.2 85.6,68.8 C87.0,68.3 90.2,68.1 91.1,68.0" opacity="0.19"/><path d="M116.8,72.3 C117.4,72.1 119.7,71.7 120.8,71.3 C121.9,70.8 121.9,69.9 123.1,69.5 C124.4,69.0 127.5,68.8 128.3,68.7" opacity="0.19"/><path d="M149.4,70.3 C150.2,70.1 152.9,69.7 154.1,69.3 C155.4,68.8 155.4,67.9 156.8,67.5 C158.3,67.0 161.8,66.8 162.8,66.7" opacity="0.17"/><path d="M184.4,70.1 C185.3,69.9 188.3,69.6 189.7,69.1 C191.1,68.6 191.1,67.7 192.8,67.3 C194.4,66.9 198.5,66.6 199.6,66.5" opacity="0.20"/><path d="M227.4,72.4 C228.0,72.2 230.0,71.9 231.0,71.4 C231.9,70.9 231.9,70.0 233.0,69.6 C234.1,69.2 236.9,68.9 237.7,68.8" opacity="0.19"/><path d="M266.6,71.9 C267.2,71.7 269.1,71.4 269.9,70.9 C270.8,70.4 270.8,69.5 271.8,69.1 C272.8,68.7 275.3,68.4 276.0,68.3" opacity="0.13"/><path d="M296.0,68.1 C296.6,67.9 298.6,67.5 299.5,67.1 C300.5,66.6 300.5,65.7 301.6,65.3 C302.6,64.8 305.4,64.6 306.1,64.5" opacity="0.13"/><path d="M330.2,71.6 C331.0,71.5 334.0,71.1 335.4,70.6 C336.7,70.2 336.7,69.3 338.3,68.8 C339.9,68.4 343.9,68.2 345.0,68.0" opacity="0.14"/><path d="M369.9,71.0 C370.5,70.8 372.3,70.5 373.2,70.0 C374.1,69.5 374.1,68.6 375.1,68.2 C376.1,67.8 378.6,67.5 379.3,67.4" opacity="0.23"/><path d="M6.3,80.5 C7.0,80.3 9.4,79.9 10.6,79.5 C11.7,79.0 11.7,78.1 13.0,77.7 C14.3,77.2 17.6,77.0 18.5,76.9" opacity="0.16"/><path d="M48.3,79.9 C48.9,79.7 51.0,79.3 51.9,78.9 C52.9,78.4 52.9,77.5 54.0,77.1 C55.1,76.6 57.9,76.4 58.7,76.3" opacity="0.15"/><path d="M80.0,77.4 C80.6,77.2 82.7,76.9 83.7,76.4 C84.7,75.9 84.7,75.0 85.8,74.6 C87.0,74.2 89.8,73.9 90.6,73.8" opacity="0.14"/><path d="M115.6,75.8 C116.4,75.6 119.1,75.3 120.3,74.8 C121.5,74.3 121.5,73.4 123.0,73.0 C124.4,72.6 128.0,72.3 129.0,72.2" opacity="0.16"/><path d="M141.3,77.4 C142.1,77.2 144.9,76.8 146.2,76.4 C147.5,75.9 147.5,75.0 149.0,74.6 C150.5,74.1 154.2,73.9 155.3,73.8" opacity="0.16"/><path d="M168.5,80.6 C169.3,80.5 172.4,80.1 173.8,79.6 C175.2,79.2 175.2,78.3 176.8,77.8 C178.5,77.4 182.6,77.2 183.7,77.0" opacity="0.21"/><path d="M197.6,77.0 C198.1,76.9 200.0,76.5 200.9,76.0 C201.7,75.6 201.7,74.7 202.8,74.2 C203.8,73.8 206.3,73.6 207.0,73.4" opacity="0.19"/><path d="M223.9,76.3 C224.6,76.2 227.1,75.8 228.2,75.3 C229.3,74.9 229.3,74.0 230.7,73.5 C232.0,73.1 235.3,72.9 236.3,72.7" opacity="0.21"/><path d="M263.0,77.0 C263.6,76.8 265.7,76.5 266.6,76.0 C267.5,75.5 267.5,74.6 268.6,74.2 C269.8,73.8 272.5,73.5 273.3,73.4" opacity="0.21"/><path d="M295.5,79.2 C296.1,79.0 298.1,78.7 299.0,78.2 C299.9,77.7 299.9,76.8 300.9,76.4 C302.0,76.0 304.6,75.7 305.3,75.6" opacity="0.11"/><path d="M329.7,77.8 C330.3,77.7 332.2,77.3 333.1,76.8 C334.0,76.4 334.0,75.5 335.0,75.0 C336.1,74.6 338.7,74.4 339.4,74.2" opacity="0.21"/><path d="M362.8,79.7 C363.4,79.5 365.3,79.2 366.2,78.7 C367.1,78.2 367.1,77.3 368.2,76.9 C369.2,76.5 371.8,76.2 372.6,76.1" opacity="0.20"/><path d="M15.9,87.0 C16.7,86.8 19.2,86.4 20.4,86.0 C21.5,85.5 21.5,84.6 22.9,84.2 C24.3,83.7 27.6,83.5 28.6,83.4" opacity="0.15"/><path d="M57.3,86.0 C57.9,85.9 60.1,85.5 61.1,85.0 C62.1,84.6 62.1,83.7 63.3,83.2 C64.4,82.8 67.3,82.6 68.2,82.4" opacity="0.15"/><path d="M84.4,85.2 C85.1,85.1 87.3,84.7 88.4,84.2 C89.4,83.8 89.4,82.9 90.6,82.4 C91.8,82.0 94.8,81.8 95.6,81.6" opacity="0.10"/><path d="M111.2,86.3 C112.0,86.1 114.4,85.7 115.6,85.3 C116.7,84.8 116.7,83.9 118.0,83.5 C119.4,83.0 122.7,82.8 123.6,82.7" opacity="0.17"/><path d="M140.8,87.2 C141.5,87.0 143.7,86.7 144.8,86.2 C145.8,85.7 145.8,84.8 147.0,84.4 C148.3,84.0 151.3,83.7 152.1,83.6" opacity="0.13"/><path d="M164.4,86.0 C165.0,85.8 167.0,85.4 167.9,85.0 C168.8,84.5 168.8,83.6 169.9,83.2 C171.0,82.7 173.6,82.5 174.4,82.4" opacity="0.17"/><path d="M196.3,85.6 C197.1,85.5 199.8,85.1 201.1,84.6 C202.4,84.2 202.4,83.3 203.9,82.8 C205.4,82.4 209.0,82.2 210.1,82.0" opacity="0.19"/><path d="M224.0,88.8 C224.8,88.6 227.5,88.3 228.7,87.8 C229.9,87.3 229.9,86.4 231.4,86.0 C232.8,85.6 236.4,85.3 237.4,85.2" opacity="0.14"/><path d="M264.4,86.7 C265.3,86.5 268.1,86.1 269.4,85.7 C270.6,85.2 270.6,84.3 272.2,83.9 C273.7,83.4 277.4,83.2 278.5,83.1" opacity="0.16"/><path d="M308.2,86.4 C309.2,86.2 312.5,85.9 314.1,85.4 C315.6,84.9 315.6,84.0 317.4,83.6 C319.2,83.2 323.7,82.9 325.0,82.8" opacity="0.16"/><path d="M348.4,86.7 C349.2,86.6 351.7,86.2 352.9,85.7 C354.0,85.3 354.0,84.4 355.4,83.9 C356.8,83.5 360.2,83.3 361.1,83.1" opacity="0.10"/><path d="M4.1,97.4 C4.8,97.2 7.4,96.9 8.5,96.4 C9.7,95.9 9.7,95.0 11.1,94.6 C12.5,94.2 15.9,93.9 16.9,93.8" opacity="0.10"/><path d="M30.4,97.9 C31.5,97.7 35.1,97.4 36.8,96.9 C38.5,96.4 38.5,95.5 40.5,95.1 C42.5,94.7 47.3,94.4 48.7,94.3" opacity="0.14"/><path d="M65.8,94.9 C66.6,94.7 69.2,94.4 70.4,93.9 C71.6,93.4 71.6,92.5 73.0,92.1 C74.4,91.7 77.9,91.4 78.9,91.3" opacity="0.12"/><path d="M93.8,95.9 C94.5,95.8 97.1,95.4 98.3,94.9 C99.4,94.5 99.4,93.6 100.8,93.1 C102.2,92.7 105.7,92.5 106.6,92.3" opacity="0.16"/><path d="M136.1,96.4 C136.9,96.3 139.4,95.9 140.6,95.4 C141.8,95.0 141.8,94.1 143.1,93.6 C144.5,93.2 147.9,93.0 148.8,92.8" opacity="0.17"/><path d="M166.4,95.5 C167.0,95.3 169.1,94.9 170.1,94.5 C171.1,94.0 171.1,93.1 172.2,92.7 C173.3,92.2 176.1,92.0 176.9,91.9" opacity="0.12"/><path d="M197.5,96.2 C198.2,96.0 200.6,95.7 201.8,95.2 C202.9,94.7 202.9,93.8 204.2,93.4 C205.6,93.0 208.9,92.7 209.8,92.6" opacity="0.13"/><path d="M221.9,95.0 C222.5,94.9 224.8,94.5 225.8,94.0 C226.9,93.6 226.9,92.7 228.1,92.2 C229.3,91.8 232.3,91.6 233.2,91.4" opacity="0.12"/><path d="M245.9,93.8 C246.7,93.6 249.3,93.3 250.6,92.8 C251.8,92.3 251.8,91.4 253.2,91.0 C254.6,90.6 258.2,90.3 259.2,90.2" opacity="0.10"/><path d="M281.7,96.3 C282.7,96.2 286.2,95.8 287.7,95.3 C289.3,94.9 289.3,94.0 291.2,93.5 C293.1,93.1 297.7,92.9 299.0,92.7" opacity="0.14"/><path d="M323.8,98.1 C324.7,97.9 327.5,97.6 328.7,97.1 C330.0,96.6 330.0,95.7 331.5,95.3 C333.1,94.9 336.8,94.6 337.8,94.5" opacity="0.11"/><path d="M367.6,94.4 C368.6,94.3 372.0,93.9 373.5,93.4 C375.1,93.0 375.1,92.1 376.9,91.6 C378.8,91.2 383.3,91.0 384.6,90.8" opacity="0.14"/></g>
</g>
<g mask="url(#pmask)"><rect width="381.4" height="144" filter="url(#noise)" opacity="0.22"/><rect width="381.4" height="144" filter="url(#noise2)" opacity="0.1"/></g>
<rect x="380.4" y="0" width="1" height="144" fill="#4f6a55" opacity="0.6"/>
</svg>
<rect x="16.5" y="300" width="1014" height="216.5" fill="url(#vh)" clip-path="url(#hc)"/>
<path d="M17,312.5 L40.3,315.5 C42.8,316.7 49.8,319.8 55.0,322.5 C60.2,325.2 66.1,328.6 71.3,332.0 C76.5,335.4 82.1,339.6 85.9,342.6 C89.7,345.6 88.9,345.8 93.9,350.0 C98.9,354.2 112.2,365.0 115.8,368.0 L115.8,368 L17,368 Z" fill="#fff"/>
<path d="M17,312.5 L40.3,315.5 C42.8,316.7 49.8,319.8 55.0,322.5 C60.2,325.2 66.1,328.6 71.3,332.0 C76.5,335.4 82.1,339.6 85.9,342.6 C89.7,345.6 88.9,345.8 93.9,350.0 C98.9,354.2 112.2,365.0 115.8,368.0 L115.8,368 L17,368 Z" fill="url(#rh)"/>
<path d="M14.5,397.9 C15.5,397.9 18.5,397.7 20.5,397.7 C22.5,397.6 24.5,397.6 26.5,397.6 C28.5,397.6 30.5,397.6 32.5,397.6 C34.4,397.7 36.4,397.7 38.4,397.8 C40.4,397.8 42.4,397.9 44.4,398.0 C46.4,398.1 48.4,398.2 50.4,398.4 C52.4,398.5 54.4,398.7 56.4,398.8 C58.4,399.0 60.4,399.2 62.4,399.4 C64.4,399.6 66.4,399.8 68.4,400.0 C70.3,400.2 72.3,400.4 74.3,400.7 C76.3,400.9 78.3,401.2 80.3,401.5 C82.3,401.7 84.3,402.0 86.3,402.3 C88.3,402.6 90.3,402.9 92.3,403.2 C94.3,403.5 96.3,403.8 98.3,404.1 C100.3,404.5 102.3,404.8 104.3,405.1 C106.3,405.5 108.2,405.8 110.2,406.2 C112.2,406.5 114.2,406.9 116.2,407.3 C118.2,407.6 120.2,408.0 122.2,408.4 C124.2,408.7 126.2,409.1 128.2,409.5 C130.2,409.9 132.2,410.3 134.2,410.7 C136.2,411.0 138.2,411.4 140.2,411.8 C142.2,412.2 144.1,412.6 146.1,413.0 C148.1,413.4 150.1,413.8 152.1,414.2 C154.1,414.6 156.1,414.9 158.1,415.3 C160.1,415.7 162.1,416.1 164.1,416.4 C166.1,416.8 168.1,417.1 170.1,417.5 C172.1,417.8 174.1,418.1 176.1,418.4 C178.1,418.8 180.1,419.0 182.0,419.3 C184.0,419.6 186.0,419.9 188.0,420.1 C190.0,420.4 192.0,420.6 194.0,420.8 C196.0,421.0 198.0,421.2 200.0,421.3 C202.0,421.5 204.0,421.6 206.0,421.7 C208.0,421.8 210.0,421.9 212.0,421.9 C214.0,421.9 216.0,422.0 218.0,421.9 C219.9,421.9 221.9,421.9 223.9,421.8 C225.9,421.7 227.9,421.6 229.9,421.5 C231.9,421.3 233.9,421.2 235.9,421.0 C237.9,420.8 239.9,420.5 241.9,420.3 C243.9,420.1 245.9,419.8 247.9,419.5 C249.9,419.2 251.9,418.9 253.9,418.5 C255.8,418.2 257.8,417.8 259.8,417.4 C261.8,417.1 263.8,416.6 265.8,416.2 C267.8,415.8 269.8,415.3 271.8,414.9 C273.8,414.4 275.8,413.9 277.8,413.4 C279.8,412.9 281.8,412.4 283.8,411.9 C285.8,411.3 287.8,410.8 289.8,410.2 C291.8,409.6 293.7,409.1 295.7,408.5 C297.7,407.9 299.7,407.3 301.7,406.6 C303.7,406.0 305.7,405.4 307.7,404.8 C309.7,404.1 311.7,403.5 313.7,402.8 C315.7,402.1 317.7,401.5 319.7,400.8 C321.7,400.1 323.7,399.4 325.7,398.7 C327.7,398.0 329.6,397.3 331.6,396.6 C333.6,395.9 335.6,395.2 337.6,394.5 C339.6,393.8 341.6,393.1 343.6,392.4 C345.6,391.7 347.6,391.0 349.6,390.3 C351.6,389.6 353.6,388.9 355.6,388.2 C357.6,387.5 359.6,386.8 361.6,386.1 C363.6,385.4 365.6,384.7 367.5,384.1 C369.5,383.4 371.5,382.8 373.5,382.1 C375.5,381.5 377.5,380.9 379.5,380.3 C381.5,379.6 383.5,379.1 385.5,378.5 C387.5,377.9 389.5,377.4 391.5,376.8 C393.5,376.3 395.5,375.8 397.5,375.3 C399.5,374.8 401.5,374.4 403.4,373.9 C405.4,373.5 407.4,373.1 409.4,372.7 C411.4,372.4 413.4,372.0 415.4,371.7 C417.4,371.4 419.4,371.1 421.4,370.9 C423.4,370.6 425.4,370.4 427.4,370.2 C429.4,370.0 431.4,369.9 433.4,369.8 C435.4,369.7 437.4,369.7 439.4,369.6 C441.3,369.6 443.3,369.7 445.3,369.7 C447.3,369.8 449.3,369.9 451.3,370.1 C453.3,370.3 455.3,370.6 457.3,370.9 C459.3,371.2 461.3,371.5 463.3,372.0 C465.3,372.4 467.3,372.9 469.3,373.5 C471.3,374.1 473.3,374.8 475.3,375.5 C477.2,376.3 479.2,377.1 481.2,377.9 C483.2,378.7 485.2,379.6 487.2,380.4 C489.2,381.2 491.2,382.0 493.2,382.8 C495.2,383.6 497.2,384.4 499.2,385.2 C501.2,386.0 503.2,386.8 505.2,387.6 C507.2,388.4 509.2,389.2 511.2,390.0 C513.2,390.8 515.1,391.6 517.1,392.4 C519.1,393.2 521.1,394.0 523.1,394.8 C525.1,395.6 527.1,396.5 529.1,397.3 C531.1,398.2 533.1,399.1 535.1,400.0 C537.1,400.9 539.1,401.8 541.1,402.7 C543.1,403.6 545.1,404.6 547.1,405.6 C549.1,406.6 551.1,407.6 553.0,408.6 C555.0,409.6 557.0,410.7 559.0,411.7 C561.0,412.7 563.0,413.8 565.0,414.8 C567.0,415.8 569.0,416.8 571.0,417.8 C573.0,418.7 575.0,419.7 577.0,420.6 C579.0,421.4 581.0,422.3 583.0,423.1 C585.0,423.9 587.0,424.7 588.9,425.5 C590.9,426.2 592.9,426.9 594.9,427.5 C596.9,428.2 598.9,428.8 600.9,429.3 C602.9,429.9 604.9,430.4 606.9,430.8 C608.9,431.3 610.9,431.7 612.9,432.1 C614.9,432.4 616.9,432.7 618.9,433.0 C620.9,433.3 622.9,433.5 624.9,433.7 C626.8,433.9 628.8,434.0 630.8,434.1 C632.8,434.2 634.8,434.2 636.8,434.3 C638.8,434.3 640.8,434.2 642.8,434.2 C644.8,434.1 646.8,434.0 648.8,433.9 C650.8,433.7 652.8,433.6 654.8,433.4 C656.8,433.1 658.8,432.9 660.8,432.6 C662.7,432.3 664.7,432.0 666.7,431.7 C668.7,431.3 670.7,431.0 672.7,430.6 C674.7,430.2 676.7,429.7 678.7,429.3 C680.7,428.8 682.7,428.3 684.7,427.8 C686.7,427.3 688.7,426.7 690.7,426.2 C692.7,425.6 694.7,425.0 696.7,424.4 C698.7,423.8 700.6,423.2 702.6,422.5 C704.6,421.9 706.6,421.2 708.6,420.5 C710.6,419.8 712.6,419.1 714.6,418.4 C716.6,417.7 718.6,416.9 720.6,416.2 C722.6,415.4 724.6,414.7 726.6,413.9 C728.6,413.2 730.6,412.4 732.6,411.6 C734.6,410.8 736.5,410.0 738.5,409.2 C740.5,408.4 742.5,407.6 744.5,406.9 C746.5,406.1 748.5,405.3 750.5,404.5 C752.5,403.7 754.5,402.9 756.5,402.2 C758.5,401.4 760.5,400.7 762.5,400.0 C764.5,399.3 766.5,398.6 768.5,397.9 C770.5,397.2 772.5,396.6 774.4,396.0 C776.4,395.3 778.4,394.7 780.4,394.1 C782.4,393.5 784.4,393.0 786.4,392.4 C788.4,391.9 790.4,391.4 792.4,390.9 C794.4,390.4 796.4,389.9 798.4,389.5 C800.4,389.0 802.4,388.6 804.4,388.2 C806.4,387.8 808.4,387.5 810.3,387.1 C812.3,386.8 814.3,386.5 816.3,386.2 C818.3,385.9 820.3,385.6 822.3,385.4 C824.3,385.2 826.3,385.0 828.3,384.8 C830.3,384.6 832.3,384.4 834.3,384.3 C836.3,384.2 838.3,384.1 840.3,384.1 C842.3,384.0 844.3,384.0 846.3,384.0 C848.2,384.0 850.2,384.0 852.2,384.1 C854.2,384.1 856.2,384.2 858.2,384.3 C860.2,384.5 862.2,384.6 864.2,384.8 C866.2,385.0 868.2,385.2 870.2,385.5 C872.2,385.7 874.2,386.0 876.2,386.4 C878.2,386.7 880.2,387.0 882.2,387.4 C884.2,387.8 886.1,388.2 888.1,388.7 C890.1,389.1 892.1,389.6 894.1,390.1 C896.1,390.6 898.1,391.1 900.1,391.7 C902.1,392.3 904.1,392.8 906.1,393.5 C908.1,394.1 910.1,394.7 912.1,395.3 C914.1,396.0 916.1,396.7 918.1,397.4 C920.1,398.0 922.0,398.8 924.0,399.5 C926.0,400.2 928.0,401.0 930.0,401.8 C932.0,402.5 934.0,403.3 936.0,404.1 C938.0,404.9 940.0,405.7 942.0,406.5 C944.0,407.2 946.0,408.0 948.0,408.7 C950.0,409.5 952.0,410.2 954.0,410.9 C956.0,411.6 958.0,412.3 959.9,413.0 C961.9,413.6 963.9,414.3 965.9,414.9 C967.9,415.5 969.9,416.2 971.9,416.8 C973.9,417.4 975.9,417.9 977.9,418.5 C979.9,419.1 981.9,419.6 983.9,420.1 C985.9,420.7 987.9,421.2 989.9,421.7 C991.9,422.2 993.9,422.7 995.8,423.1 C997.8,423.6 999.8,424.0 1001.8,424.4 C1003.8,424.8 1005.8,425.2 1007.8,425.6 C1009.8,426.0 1012.8,426.5 1013.8,426.7" fill="none" stroke="#686c70" stroke-opacity="0.6" stroke-width="1.7"/>
<path d="M21.5,444.4 C22.5,444.3 25.5,444.0 27.5,443.9 C29.5,443.7 31.5,443.6 33.5,443.5 C35.5,443.4 37.5,443.4 39.5,443.4 C41.5,443.3 43.5,443.4 45.5,443.4 C47.5,443.4 49.5,443.5 51.5,443.6 C53.5,443.6 55.4,443.7 57.4,443.9 C59.4,444.0 61.4,444.1 63.4,444.3 C65.4,444.5 67.4,444.7 69.4,444.9 C71.4,445.1 73.4,445.3 75.4,445.6 C77.4,445.8 79.4,446.1 81.4,446.4 C83.4,446.6 85.4,446.9 87.4,447.2 C89.4,447.5 91.4,447.9 93.4,448.2 C95.4,448.5 97.4,448.9 99.4,449.2 C101.4,449.6 103.4,449.9 105.4,450.3 C107.4,450.7 109.4,451.1 111.4,451.5 C113.4,451.8 115.4,452.2 117.4,452.6 C119.4,453.0 121.3,453.4 123.3,453.8 C125.3,454.2 127.3,454.6 129.3,455.0 C131.3,455.4 133.3,455.8 135.3,456.3 C137.3,456.7 139.3,457.1 141.3,457.5 C143.3,457.9 145.3,458.3 147.3,458.7 C149.3,459.1 151.3,459.4 153.3,459.8 C155.3,460.2 157.3,460.6 159.3,461.0 C161.3,461.3 163.3,461.7 165.3,462.0 C167.3,462.4 169.3,462.7 171.3,463.1 C173.3,463.4 175.3,463.7 177.3,464.0 C179.3,464.3 181.3,464.6 183.3,464.9 C185.3,465.1 187.2,465.4 189.2,465.6 C191.2,465.9 193.2,466.1 195.2,466.3 C197.2,466.5 199.2,466.7 201.2,466.9 C203.2,467.0 205.2,467.2 207.2,467.3 C209.2,467.4 211.2,467.5 213.2,467.6 C215.2,467.7 217.2,467.7 219.2,467.7 C221.2,467.8 223.2,467.8 225.2,467.7 C227.2,467.7 229.2,467.7 231.2,467.6 C233.2,467.5 235.2,467.4 237.2,467.3 C239.2,467.2 241.2,467.0 243.2,466.9 C245.2,466.7 247.2,466.5 249.2,466.3 C251.2,466.1 253.2,465.8 255.1,465.6 C257.1,465.3 259.1,465.0 261.1,464.7 C263.1,464.4 265.1,464.0 267.1,463.7 C269.1,463.3 271.1,462.9 273.1,462.5 C275.1,462.1 277.1,461.7 279.1,461.2 C281.1,460.8 283.1,460.3 285.1,459.8 C287.1,459.3 289.1,458.7 291.1,458.2 C293.1,457.7 295.1,457.1 297.1,456.5 C299.1,455.9 301.1,455.3 303.1,454.6 C305.1,454.0 307.1,453.3 309.1,452.7 C311.1,452.0 313.1,451.3 315.1,450.6 C317.1,449.9 319.1,449.1 321.0,448.4 C323.0,447.6 325.0,446.9 327.0,446.1 C329.0,445.4 331.0,444.6 333.0,443.8 C335.0,443.1 337.0,442.3 339.0,441.5 C341.0,440.8 343.0,440.0 345.0,439.2 C347.0,438.4 349.0,437.7 351.0,436.9 C353.0,436.2 355.0,435.4 357.0,434.6 C359.0,433.9 361.0,433.2 363.0,432.4 C365.0,431.7 367.0,431.0 369.0,430.3 C371.0,429.6 373.0,429.0 375.0,428.3 C377.0,427.7 379.0,427.0 381.0,426.4 C383.0,425.8 385.0,425.2 386.9,424.7 C388.9,424.1 390.9,423.6 392.9,423.1 C394.9,422.6 396.9,422.1 398.9,421.7 C400.9,421.2 402.9,420.8 404.9,420.4 C406.9,420.0 408.9,419.7 410.9,419.4 C412.9,419.0 414.9,418.7 416.9,418.5 C418.9,418.2 420.9,418.0 422.9,417.8 C424.9,417.6 426.9,417.4 428.9,417.3 C430.9,417.1 432.9,417.0 434.9,417.0 C436.9,416.9 438.9,416.8 440.9,416.8 C442.9,416.8 444.9,416.9 446.9,416.9 C448.9,417.0 450.9,417.1 452.8,417.2 C454.8,417.3 456.8,417.5 458.8,417.7 C460.8,417.9 462.8,418.1 464.8,418.4 C466.8,418.6 468.8,418.9 470.8,419.3 C472.8,419.6 474.8,420.0 476.8,420.4 C478.8,420.8 480.8,421.2 482.8,421.7 C484.8,422.2 486.8,422.7 488.8,423.3 C490.8,423.8 492.8,424.4 494.8,425.1 C496.8,425.7 498.8,426.4 500.8,427.1 C502.8,427.8 504.8,428.5 506.8,429.3 C508.8,430.1 510.8,431.0 512.8,431.8 C514.8,432.7 516.8,433.6 518.8,434.5 C520.7,435.4 522.7,436.4 524.7,437.3 C526.7,438.3 528.7,439.3 530.7,440.3 C532.7,441.3 534.7,442.3 536.7,443.3 C538.7,444.4 540.7,445.4 542.7,446.4 C544.7,447.5 546.7,448.5 548.7,449.5 C550.7,450.5 552.7,451.6 554.7,452.6 C556.7,453.6 558.7,454.6 560.7,455.6 C562.7,456.5 564.7,457.5 566.7,458.4 C568.7,459.4 570.7,460.3 572.7,461.1 C574.7,462.0 576.7,462.9 578.7,463.7 C580.7,464.5 582.7,465.3 584.7,466.0 C586.6,466.8 588.6,467.5 590.6,468.2 C592.6,468.9 594.6,469.5 596.6,470.2 C598.6,470.8 600.6,471.4 602.6,471.9 C604.6,472.5 606.6,473.0 608.6,473.5 C610.6,474.0 612.6,474.5 614.6,474.9 C616.6,475.3 618.6,475.7 620.6,476.1 C622.6,476.4 624.6,476.8 626.6,477.0 C628.6,477.3 630.6,477.6 632.6,477.8 C634.6,478.0 636.6,478.2 638.6,478.3 C640.6,478.5 642.6,478.6 644.6,478.6 C646.6,478.7 648.6,478.7 650.6,478.7 C652.5,478.7 654.5,478.7 656.5,478.6 C658.5,478.5 660.5,478.4 662.5,478.3 C664.5,478.1 666.5,477.9 668.5,477.7 C670.5,477.4 672.5,477.2 674.5,476.9 C676.5,476.5 678.5,476.2 680.5,475.8 C682.5,475.4 684.5,475.0 686.5,474.6 C688.5,474.1 690.5,473.6 692.5,473.1 C694.5,472.6 696.5,472.0 698.5,471.5 C700.5,470.9 702.5,470.3 704.5,469.7 C706.5,469.1 708.5,468.4 710.5,467.8 C712.5,467.1 714.5,466.4 716.5,465.7 C718.4,465.1 720.4,464.4 722.4,463.6 C724.4,462.9 726.4,462.2 728.4,461.5 C730.4,460.8 732.4,460.0 734.4,459.3 C736.4,458.5 738.4,457.8 740.4,457.0 C742.4,456.3 744.4,455.5 746.4,454.8 C748.4,454.0 750.4,453.3 752.4,452.5 C754.4,451.8 756.4,451.0 758.4,450.3 C760.4,449.5 762.4,448.8 764.4,448.1 C766.4,447.3 768.4,446.6 770.4,445.9 C772.4,445.2 774.4,444.5 776.4,443.8 C778.4,443.1 780.4,442.4 782.4,441.8 C784.3,441.1 786.3,440.5 788.3,439.9 C790.3,439.2 792.3,438.6 794.3,438.1 C796.3,437.5 798.3,436.9 800.3,436.4 C802.3,435.9 804.3,435.3 806.3,434.9 C808.3,434.4 810.3,433.9 812.3,433.5 C814.3,433.1 816.3,432.7 818.3,432.3 C820.3,432.0 822.3,431.6 824.3,431.3 C826.3,431.0 828.3,430.8 830.3,430.6 C832.3,430.3 834.3,430.2 836.3,430.0 C838.3,429.9 840.3,429.8 842.3,429.7 C844.3,429.6 846.3,429.6 848.3,429.6 C850.2,429.7 852.2,429.7 854.2,429.8 C856.2,429.9 858.2,430.0 860.2,430.1 C862.2,430.3 864.2,430.5 866.2,430.7 C868.2,430.9 870.2,431.2 872.2,431.4 C874.2,431.7 876.2,432.0 878.2,432.3 C880.2,432.7 882.2,433.0 884.2,433.4 C886.2,433.8 888.2,434.2 890.2,434.6 C892.2,435.0 894.2,435.5 896.2,436.0 C898.2,436.4 900.2,436.9 902.2,437.4 C904.2,437.9 906.2,438.4 908.2,439.0 C910.2,439.5 912.2,440.1 914.2,440.6 C916.2,441.2 918.1,441.8 920.1,442.4 C922.1,443.0 924.1,443.6 926.1,444.2 C928.1,444.8 930.1,445.5 932.1,446.1 C934.1,446.7 936.1,447.4 938.1,448.0 C940.1,448.7 942.1,449.3 944.1,450.0 C946.1,450.6 948.1,451.3 950.1,451.9 C952.1,452.6 954.1,453.3 956.1,453.9 C958.1,454.6 960.1,455.2 962.1,455.9 C964.1,456.5 966.1,457.2 968.1,457.9 C970.1,458.5 972.1,459.1 974.1,459.8 C976.1,460.4 978.1,461.0 980.1,461.7 C982.1,462.3 984.0,462.9 986.0,463.5 C988.0,464.1 990.0,464.7 992.0,465.2 C994.0,465.8 996.0,466.4 998.0,466.9 C1000.0,467.5 1002.0,468.0 1004.0,468.5 C1006.0,469.0 1008.0,469.5 1010.0,470.0 C1012.0,470.5 1015.0,471.1 1016.0,471.4" fill="none" stroke="#686c70" stroke-opacity="0.6" stroke-width="1.7"/>
<path d="M115.8,368.0 C116.8,368.9 119.8,371.2 121.8,373.1 C123.8,375.0 125.8,377.2 127.8,379.2 C129.7,381.1 131.7,383.1 133.7,385.0 C135.7,387.0 137.7,388.9 139.7,390.7 C141.7,392.6 143.7,394.5 145.7,396.3 C147.7,398.0 149.7,399.8 151.7,401.5 C153.6,403.3 155.6,404.9 157.6,406.6 C159.6,408.2 161.6,409.8 163.6,411.4 C165.6,412.9 167.6,414.4 169.6,415.9 C171.6,417.4 173.6,418.8 175.6,420.1 C177.5,421.5 179.5,422.8 181.5,424.1 C183.5,425.3 185.5,426.5 187.5,427.6 C189.5,428.8 191.5,429.9 193.5,430.9 C195.5,431.9 197.5,432.9 199.5,433.8 C201.4,434.7 203.4,435.5 205.4,436.3 C207.4,437.0 209.4,437.7 211.4,438.3 C213.4,439.0 215.4,439.5 217.4,440.0 C219.4,440.5 221.4,440.9 223.4,441.2 C225.3,441.6 227.3,441.8 229.3,442.0 C231.3,442.2 233.3,442.3 235.3,442.3 C237.3,442.3 239.3,442.2 241.3,442.1 C243.3,442.0 245.3,441.8 247.3,441.5 C249.2,441.2 251.2,440.8 253.2,440.4 C255.2,440.0 257.2,439.4 259.2,438.9 C261.2,438.3 263.2,437.6 265.2,436.9 C267.2,436.2 269.2,435.4 271.2,434.5 C273.1,433.7 275.1,432.8 277.1,431.8 C279.1,430.8 281.1,429.7 283.1,428.6 C285.1,427.5 287.1,426.3 289.1,425.1 C291.1,423.8 293.1,422.5 295.1,421.1 C297.0,419.8 299.0,418.3 301.0,416.9 C303.0,415.4 305.0,413.9 307.0,412.3 C309.0,410.7 311.0,409.1 313.0,407.5 C315.0,405.8 317.0,404.2 319.0,402.5 C320.9,400.8 322.9,399.0 324.9,397.3 C326.9,395.6 328.9,393.8 330.9,392.0 C332.9,390.3 334.9,388.5 336.9,386.7 C338.9,385.0 340.9,383.2 342.9,381.4 C344.8,379.7 346.8,377.9 348.8,376.2 C350.8,374.5 352.8,372.8 354.8,371.1 C356.8,369.4 358.8,367.7 360.8,366.1 C362.8,364.4 364.8,362.8 366.8,361.3 C368.7,359.7 370.7,358.2 372.7,356.7 C374.7,355.2 376.7,353.7 378.7,352.3 C380.7,350.9 382.7,349.5 384.7,348.2 C386.7,346.9 388.7,345.6 390.7,344.4 C392.6,343.2 394.6,342.0 396.6,340.9 C398.6,339.8 400.6,338.8 402.6,337.8 C404.6,336.8 406.6,335.9 408.6,335.1 C410.6,334.3 412.6,333.5 414.6,332.8 C416.5,332.2 418.5,331.6 420.5,331.0 C422.5,330.5 424.5,330.0 426.5,329.7 C428.5,329.3 430.5,329.0 432.5,328.7 C434.5,328.5 436.5,328.4 438.5,328.3 C440.5,328.2 442.4,328.2 444.4,328.2 C446.4,328.3 448.4,328.5 450.4,328.7 C452.4,328.9 454.4,329.2 456.4,329.5 C458.4,329.9 460.4,330.3 462.4,330.8 C464.4,331.3 466.3,331.9 468.3,332.5 C470.3,333.2 472.3,333.9 474.3,334.7 C476.3,335.4 478.3,336.3 480.3,337.2 C482.3,338.1 484.3,339.1 486.3,340.2 C488.3,341.3 490.2,342.4 492.2,343.6 C494.2,344.7 496.2,346.0 498.2,347.3 C500.2,348.6 502.2,349.9 504.2,351.3 C506.2,352.7 508.2,354.2 510.2,355.7 C512.2,357.2 514.1,358.8 516.1,360.3 C518.1,361.9 520.1,363.6 522.1,365.3 C524.1,366.9 526.1,368.6 528.1,370.4 C530.1,372.1 532.1,373.9 534.1,375.8 C536.1,377.6 538.0,379.4 540.0,381.3 C542.0,383.2 544.0,385.0 546.0,386.9 C548.0,388.8 550.0,390.8 552.0,392.7 C554.0,394.6 556.0,396.5 558.0,398.4 C560.0,400.3 561.9,402.2 563.9,404.1 C565.9,406.0 567.9,407.9 569.9,409.7 C571.9,411.6 573.9,413.4 575.9,415.2 C577.9,416.9 579.9,418.7 581.9,420.4 C583.9,422.1 585.8,423.8 587.8,425.4 C589.8,427.0 591.8,428.6 593.8,430.1 C595.8,431.7 597.8,433.1 599.8,434.6 C601.8,436.0 603.8,437.4 605.8,438.7 C607.8,440.1 609.7,441.4 611.7,442.6 C613.7,443.8 615.7,445.0 617.7,446.1 C619.7,447.2 621.7,448.3 623.7,449.2 C625.7,450.2 627.7,451.2 629.7,452.0 C631.7,452.9 633.6,453.7 635.6,454.4 C637.6,455.2 639.6,455.8 641.6,456.4 C643.6,457.0 645.6,457.5 647.6,458.0 C649.6,458.4 651.6,458.8 653.6,459.1 C655.6,459.4 657.5,459.6 659.5,459.7 C661.5,459.9 663.5,459.9 665.5,459.9 C667.5,459.9 669.5,459.8 671.5,459.6 C673.5,459.4 675.5,459.1 677.5,458.7 C679.5,458.4 681.4,457.9 683.4,457.4 C685.4,456.8 687.4,456.2 689.4,455.4 C691.4,454.7 693.4,453.9 695.4,453.0 C697.4,452.1 699.4,451.1 701.4,450.1 C703.4,449.0 705.3,447.9 707.3,446.7 C709.3,445.5 711.3,444.3 713.3,443.0 C715.3,441.7 717.3,440.3 719.3,438.9 C721.3,437.5 723.3,436.0 725.3,434.6 C727.3,433.1 729.3,431.5 731.2,430.0 C733.2,428.4 735.2,426.8 737.2,425.2 C739.2,423.6 741.2,421.9 743.2,420.3 C745.2,418.6 747.2,416.9 749.2,415.3 C751.2,413.6 753.2,411.9 755.1,410.2 C757.1,408.5 759.1,406.8 761.1,405.1 C763.1,403.4 765.1,401.8 767.1,400.1 C769.1,398.5 771.1,396.8 773.1,395.2 C775.1,393.6 777.1,392.0 779.0,390.4 C781.0,388.9 783.0,387.3 785.0,385.8 C787.0,384.3 789.0,382.9 791.0,381.5 C793.0,380.1 795.0,378.7 797.0,377.4 C799.0,376.1 801.0,374.9 802.9,373.7 C804.9,372.5 806.9,371.4 808.9,370.4 C810.9,369.3 812.9,368.3 814.9,367.5 C816.9,366.6 818.9,365.7 820.9,365.0 C822.9,364.2 824.9,363.5 826.8,362.9 C828.8,362.3 830.8,361.8 832.8,361.4 C834.8,360.9 836.8,360.5 838.8,360.2 C840.8,359.9 842.8,359.7 844.8,359.5 C846.8,359.4 848.8,359.3 850.7,359.3 C852.7,359.3 854.7,359.3 856.7,359.5 C858.7,359.6 860.7,359.8 862.7,360.1 C864.7,360.4 866.7,360.8 868.7,361.2 C870.7,361.7 872.7,362.2 874.6,362.8 C876.6,363.4 878.6,364.1 880.6,364.8 C882.6,365.6 884.6,366.4 886.6,367.3 C888.6,368.2 890.6,369.2 892.6,370.2 C894.6,371.3 896.6,372.4 898.5,373.6 C900.5,374.8 902.5,376.0 904.5,377.4 C906.5,378.7 908.5,380.0 910.5,381.5 C912.5,382.9 914.5,384.4 916.5,385.9 C918.5,387.4 920.5,389.0 922.4,390.6 C924.4,392.2 926.4,393.9 928.4,395.5 C930.4,397.2 932.4,398.9 934.4,400.7 C936.4,402.4 938.4,404.2 940.4,406.0 C942.4,407.8 944.4,409.6 946.3,411.4 C948.3,413.2 950.3,415.1 952.3,416.9 C954.3,418.8 956.3,420.6 958.3,422.5 C960.3,424.3 962.3,426.2 964.3,428.1 C966.3,429.9 968.3,431.8 970.2,433.6 C972.2,435.4 974.2,437.3 976.2,439.1 C978.2,440.9 980.2,442.7 982.2,444.4 C984.2,446.2 986.2,448.0 988.2,449.7 C990.2,451.4 992.2,453.1 994.1,454.7 C996.1,456.3 998.1,458.0 1000.1,459.5 C1002.1,461.1 1004.1,462.6 1006.1,464.1 C1008.1,465.5 1010.1,467.0 1012.1,468.3 C1014.1,469.7 1016.1,471.0 1018.0,472.2 C1020.0,473.5 1022.0,474.7 1024.0,475.8 C1026.0,476.9 1029.0,478.4 1030.0,478.9" fill="none" stroke="#5c5c5c" stroke-width="2.2"/>
<path d="M17,312.5 L40.3,315.5 C42.8,316.7 49.8,319.8 55.0,322.5 C60.2,325.2 66.1,328.6 71.3,332.0 C76.5,335.4 82.1,339.6 85.9,342.6 C89.7,345.6 88.9,345.8 93.9,350.0 C98.9,354.2 112.2,365.0 115.8,368.0 L115.8,368 L17,368 Z" fill="none" stroke="#000" stroke-width="2.2" stroke-linejoin="round"/>
<line x1="105" y1="234.5" x2="73.0" y2="316.1" stroke="#000" stroke-width="2.2"/><polygon points="68.6,327.3 67.3,312.8 79.4,317.6" fill="#000"/><line x1="374.1" y1="284.1" x2="426.0" y2="352.7" stroke="#000" stroke-width="2.2"/><polygon points="433.2,362.3 420.2,355.8 430.5,348.0" fill="#000"/><line x1="582.2" y1="309.4" x2="486.7" y2="357.1" stroke="#000" stroke-width="2.2"/><polygon points="476,362.5 484.7,350.9 490.5,362.5" fill="#000"/><line x1="476.7" y1="337.5" x2="476.0" y2="366.2" stroke="#000" stroke-width="2.2"/><polygon points="475.7,378.2 469.5,365.0 482.5,365.4" fill="#000"/><line x1="392" y1="564.4" x2="438.0" y2="411.8" stroke="#000" stroke-width="2.2"/><polygon points="441.5,400.3 444.0,414.6 431.5,410.9" fill="#000"/><line x1="745.1" y1="352.3" x2="753.4" y2="367.8" stroke="#000" stroke-width="2.2"/><polygon points="759.1,378.4 747.2,370.0 758.7,363.9" fill="#000"/><line x1="717.4" y1="520" x2="705.1" y2="466.7" stroke="#000" stroke-width="2.2"/><polygon points="702.4,455 711.7,466.2 699.0,469.1" fill="#000"/>
<line x1="655" y1="92.5" x2="655" y2="228" stroke="#000" stroke-width="2"/>
<line x1="654" y1="228.2" x2="876.5" y2="228.2" stroke="#000" stroke-width="2"/>
<line x1="655.5" y1="227" x2="677" y2="57" stroke="#d0474f" stroke-width="1.8"/>
<polyline points="655.5,227 700.3,198" fill="none" stroke="#b8750c" stroke-width="2"/>
<polyline points="703.4,197.7 884.6,182.4" fill="none" stroke="#b8750c" stroke-width="2"/>
<g clip-path="url(#dc)" fill="none" stroke="#000" stroke-linecap="round">
<path d="M855,244 C853.6,242 853.8,238.6 857.5,237.6 C860,237 862.5,237.6 864.5,239.3" stroke-width="1.2"/>
<path d="M861.6,238.1 C863.6,238.7 865.4,240 866.3,241.5" stroke-width="2.6"/>
<path d="M855,244 C857.5,246.3 861,247.6 864.2,250.6 C867.2,253.5 868.7,256.8 868.5,263" stroke-width="1.7"/>
<path d="M861.5,248.3 C864,250 866.2,252 867.4,254.5 C868.3,256.5 868.5,259 868.4,263" stroke-width="3"/>
<path d="M852.9,263 C852.2,257 854.5,251.5 859.8,249.3" stroke-width="1.6"/>
<path d="M853,263 C852.5,259 852.8,256 854.3,253.5" stroke-width="3"/>
</g>
<text x="16.75" y="209.3" font-family="Liberation Sans" font-size="21.5" textLength="34.36" lengthAdjust="spacingAndGlyphs" stroke="#000" stroke-width="0.25" >Top</text><text x="54.92" y="209.3" font-family="Liberation Sans" font-size="21.5" textLength="33.17" lengthAdjust="spacingAndGlyphs" stroke="#000" stroke-width="0.25" >too</text><text x="90.8" y="209.3" font-family="Liberation Sans" font-size="21.5" textLength="42.15" lengthAdjust="spacingAndGlyphs" stroke="#000" stroke-width="0.25" >high</text><text x="139.07" y="209.3" font-family="Liberation Sans" font-size="21.5" textLength="34.97" lengthAdjust="spacingAndGlyphs" stroke="#000" stroke-width="0.25" >and</text><text x="178.27" y="209.3" font-family="Liberation Sans" font-size="21.5" textLength="76.7" lengthAdjust="spacingAndGlyphs" stroke="#000" stroke-width="0.25" >requires</text><text x="261.27" y="209.3" font-family="Liberation Sans" font-size="21.5" textLength="81.99" lengthAdjust="spacingAndGlyphs" stroke="#000" stroke-width="0.25" >dredging</text><text x="348.3" y="209.3" font-family="Liberation Sans" font-size="21.5" textLength="31.19" lengthAdjust="spacingAndGlyphs" stroke="#000" stroke-width="0.25" >but</text><text x="385.68" y="209.3" font-family="Liberation Sans" font-size="21.5" textLength="34.28" lengthAdjust="spacingAndGlyphs" stroke="#000" stroke-width="0.25" >less</text><text x="424.76" y="209.3" font-family="Liberation Sans" font-size="21.5" textLength="80.94" lengthAdjust="spacingAndGlyphs" stroke="#000" stroke-width="0.25" >accurate</text><text x="221.86" y="265.0" font-family="Liberation Sans" font-size="21.5" textLength="80.78" lengthAdjust="spacingAndGlyphs" stroke="#000" stroke-width="0.25" >Reduced</text><text x="307.28" y="265.0" font-family="Liberation Sans" font-size="21.5" textLength="74.77" lengthAdjust="spacingAndGlyphs" stroke="#000" stroke-width="0.25" >bending</text><text x="388.43" y="265.0" font-family="Liberation Sans" font-size="21.5" textLength="53.62" lengthAdjust="spacingAndGlyphs" stroke="#000" stroke-width="0.25" >stress</text><text x="471.12" y="291.5" font-family="Liberation Sans" font-size="21.5" textLength="73.3" lengthAdjust="spacingAndGlyphs" stroke="#000" stroke-width="0.25" >Pipeline</text><text x="549.96" y="291.5" font-family="Liberation Sans" font-size="21.5" textLength="100.53" lengthAdjust="spacingAndGlyphs" stroke="#000" stroke-width="0.25" >penetrates</text><text x="656.45" y="291.5" font-family="Liberation Sans" font-size="21.5" textLength="30.46" lengthAdjust="spacingAndGlyphs" stroke="#000" stroke-width="0.25" >top</text><text x="693.28" y="291.5" font-family="Liberation Sans" font-size="21.5" textLength="34.67" lengthAdjust="spacingAndGlyphs" stroke="#000" stroke-width="0.25" >due</text><text x="734.84" y="291.5" font-family="Liberation Sans" font-size="21.5" textLength="18.99" lengthAdjust="spacingAndGlyphs" stroke="#000" stroke-width="0.25" >to</text><text x="758.84" y="291.5" font-family="Liberation Sans" font-size="21.5" textLength="105.9" lengthAdjust="spacingAndGlyphs" stroke="#000" stroke-width="0.25" >equilibrium</text><text x="871.01" y="291.5" font-family="Liberation Sans" font-size="21.5" textLength="31.52" lengthAdjust="spacingAndGlyphs" stroke="#000" stroke-width="0.25" >soil</text><text x="907.53" y="291.5" font-family="Liberation Sans" font-size="21.5" textLength="77.63" lengthAdjust="spacingAndGlyphs" stroke="#000" stroke-width="0.25" >reaction</text><text x="646.0" y="333.3" font-family="Liberation Sans" font-size="21.5" textLength="74.43" lengthAdjust="spacingAndGlyphs" stroke="#000" stroke-width="0.25" >Pipeline</text><text x="724.18" y="333.3" font-family="Liberation Sans" font-size="21.5" textLength="32.71" lengthAdjust="spacingAndGlyphs" stroke="#000" stroke-width="0.25" >laid</text><text x="761.38" y="333.3" font-family="Liberation Sans" font-size="21.5" textLength="43.21" lengthAdjust="spacingAndGlyphs" stroke="#000" stroke-width="0.25" >with</text><text x="810.08" y="333.3" font-family="Liberation Sans" font-size="21.5" textLength="111.83" lengthAdjust="spacingAndGlyphs" stroke="#000" stroke-width="0.25" >backtension</text><text x="639.4" y="553.5" font-family="Liberation Sans" font-size="21.5" textLength="44.88" lengthAdjust="spacingAndGlyphs" stroke="#000" stroke-width="0.25" >&#8220;soft</text><text x="688.44" y="553.5" font-family="Liberation Sans" font-size="21.5" textLength="43.03" lengthAdjust="spacingAndGlyphs" stroke="#000" stroke-width="0.25" >sand</text><text x="737.81" y="553.5" font-family="Liberation Sans" font-size="21.5" textLength="76.25" lengthAdjust="spacingAndGlyphs" stroke="#000" stroke-width="0.25" >surface&#8221;</text><text x="41.22" y="594.5" font-family="Liberation Sans" font-size="21.5" textLength="38.45" lengthAdjust="spacingAndGlyphs" stroke="#000" stroke-width="0.25" >Less</text><text x="84.25" y="594.5" font-family="Liberation Sans" font-size="21.5" textLength="89.06" lengthAdjust="spacingAndGlyphs" stroke="#000" stroke-width="0.25" >trenching</text><text x="177.94" y="594.5" font-family="Liberation Sans" font-size="21.5" textLength="79.45" lengthAdjust="spacingAndGlyphs" stroke="#000" stroke-width="0.25" >required</text><text x="264.23" y="594.5" font-family="Liberation Sans" font-size="21.5" textLength="19.52" lengthAdjust="spacingAndGlyphs" stroke="#000" stroke-width="0.25" >to</text><text x="288.6" y="594.5" font-family="Liberation Sans" font-size="21.5" textLength="69.0" lengthAdjust="spacingAndGlyphs" stroke="#000" stroke-width="0.25" >achieve</text><text x="365.2" y="594.5" font-family="Liberation Sans" font-size="21.5" textLength="84.36" lengthAdjust="spacingAndGlyphs" stroke="#000" stroke-width="0.25" >sufficient</text><text x="455.97" y="594.5" font-family="Liberation Sans" font-size="21.5" textLength="51.15" lengthAdjust="spacingAndGlyphs" stroke="#000" stroke-width="0.25" >cover</text><text x="512.4" y="594.5" font-family="Liberation Sans" font-size="21.5" textLength="14.68" lengthAdjust="spacingAndGlyphs" stroke="#000" stroke-width="0.25" >in</text><text x="531.56" y="594.5" font-family="Liberation Sans" font-size="21.5" textLength="29.01" lengthAdjust="spacingAndGlyphs" stroke="#000" stroke-width="0.25" >the</text><text x="564.22" y="594.5" font-family="Liberation Sans" font-size="21.5" textLength="80.08" lengthAdjust="spacingAndGlyphs" stroke="#000" stroke-width="0.25" >troughs</text><text x="688.75" y="85.6" font-family="Liberation Sans" font-size="16.6" textLength="37.71" lengthAdjust="spacingAndGlyphs" stroke="#000" stroke-width="0.55" >Hard</text><text x="729.71" y="85.6" font-family="Liberation Sans" font-size="16.6" textLength="65.36" lengthAdjust="spacingAndGlyphs" stroke="#000" stroke-width="0.55" >rock-like</text><text x="798.55" y="85.6" font-family="Liberation Sans" font-size="16.6" textLength="53.97" lengthAdjust="spacingAndGlyphs" stroke="#000" stroke-width="0.55" >surface</text><text x="762.88" y="170.3" font-family="Liberation Sans" font-size="16.6" textLength="30.59" lengthAdjust="spacingAndGlyphs" stroke="#000" stroke-width="0.55" >Soft</text><text x="797.55" y="170.3" font-family="Liberation Sans" font-size="16.6" textLength="35.27" lengthAdjust="spacingAndGlyphs" stroke="#000" stroke-width="0.55" >sand</text><text x="836.55" y="170.3" font-family="Liberation Sans" font-size="16.6" textLength="55.29" lengthAdjust="spacingAndGlyphs" stroke="#000" stroke-width="0.55" >surface</text><text x="625.94" y="117.4" font-family="Liberation Sans" font-size="17" textLength="10.42" lengthAdjust="spacingAndGlyphs" stroke="#000" stroke-width="0.3" >R</text>
<g fill="#b0b0b0"><rect x="532.5" y="260.5" width="2" height="1"/><rect x="684.5" y="260.5" width="2" height="1"/><rect x="763" y="260.5" width="2" height="1"/><rect x="773" y="260.5" width="2" height="1"/><rect x="844" y="260.5" width="2" height="1"/></g>
</svg>
</body></html>
